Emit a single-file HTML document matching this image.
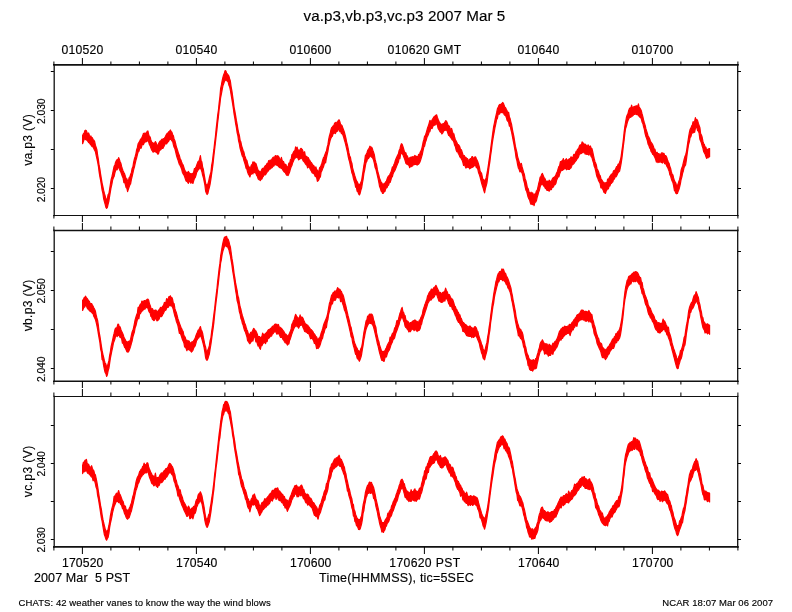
<!DOCTYPE html><html><head><meta charset="utf-8"><title>va.p3,vb.p3,vc.p3</title>
<style>html,body{margin:0;padding:0;background:#fff}svg{display:block}text{font-family:"Liberation Sans",sans-serif;fill:#000;stroke:#000;stroke-width:.15px}</style></head><body>
<svg width="792" height="612" viewBox="0 0 792 612">
<rect width="792" height="612" fill="#fff"/>
<path d="M82.6 135.4L83.4 133.7L84.1 133.2L84.9 130.6L85.6 130.2L86.4 130.8L87.1 132.9L87.9 134.0L88.6 133.0L89.4 135.2L90.1 137.0L90.9 136.0L91.6 138.0L92.4 137.7L93.1 139.6L93.9 140.3L94.6 141.4L95.4 145.2L96.1 147.3L96.9 149.7L97.6 154.8L98.4 159.6L99.1 165.2L99.9 169.1L100.6 174.0L101.4 178.9L102.1 183.1L102.9 186.7L103.6 190.2L104.4 193.5L105.1 195.6L105.9 199.0L106.6 199.8L107.4 198.4L108.1 194.7L108.9 193.5L109.6 189.3L110.4 184.2L111.1 179.7L111.9 176.7L112.6 173.6L113.4 169.6L114.1 166.3L114.9 165.0L115.6 162.2L116.4 160.6L117.1 159.6L117.9 159.7L118.6 157.6L119.4 159.4L120.1 161.7L120.9 163.3L121.6 166.4L122.4 169.0L123.1 170.9L123.9 172.6L124.6 173.8L125.4 176.5L126.1 178.6L126.9 178.9L127.6 181.2L128.4 181.3L129.1 177.6L129.9 176.8L130.6 174.5L131.4 172.4L132.1 168.6L132.9 166.8L133.6 162.4L134.4 159.0L135.1 156.7L135.9 153.8L136.6 149.9L137.4 147.4L138.1 143.8L138.9 142.5L139.6 141.4L140.4 139.5L141.1 138.6L141.9 137.5L142.6 136.1L143.4 133.4L144.1 133.5L144.9 133.0L145.6 133.5L146.4 133.1L147.1 131.4L147.9 131.0L148.6 134.1L149.4 136.7L150.1 136.9L150.9 139.9L151.6 142.0L152.4 142.6L153.1 143.7L153.9 143.1L154.6 143.5L155.4 141.6L156.1 142.7L156.9 145.2L157.6 146.0L158.4 144.1L159.1 142.5L159.9 141.2L160.6 141.1L161.4 139.9L162.1 139.0L162.9 140.2L163.6 138.5L164.4 138.3L165.1 137.0L165.9 135.4L166.6 134.2L167.4 133.2L168.1 133.3L168.9 131.6L169.6 131.2L170.4 130.0L171.1 131.5L171.9 132.2L172.6 134.5L173.4 135.9L174.1 139.0L174.9 140.7L175.6 143.4L176.4 147.1L177.1 148.8L177.9 151.5L178.6 153.8L179.4 155.6L180.1 158.4L180.9 160.0L181.6 162.0L182.4 164.0L183.1 164.9L183.9 167.4L184.6 169.8L185.4 171.1L186.1 172.0L186.9 173.2L187.6 172.4L188.4 171.5L189.1 172.6L189.9 173.5L190.6 173.7L191.4 174.1L192.1 173.5L192.9 173.3L193.6 172.4L194.4 168.7L195.1 168.6L195.9 167.4L196.6 165.5L197.4 163.2L198.1 161.6L198.9 161.1L199.6 159.2L200.4 155.6L201.1 160.4L201.9 162.1L202.6 166.8L203.4 169.5L204.1 174.0L204.9 178.7L205.6 183.0L206.4 185.7L207.1 184.7L207.9 183.9L208.6 181.5L209.4 177.6L210.1 174.9L210.9 172.3L211.6 165.7L212.4 161.3L213.1 155.2L213.9 149.2L214.6 142.8L215.4 136.5L216.1 129.2L216.9 122.4L217.6 115.7L218.4 110.3L219.1 103.3L219.9 96.8L220.6 88.7L221.4 84.9L222.1 80.9L222.9 77.5L223.6 74.9L224.4 73.0L225.1 70.6L225.9 71.0L226.6 73.1L227.4 74.0L228.1 74.9L228.9 76.1L229.6 78.7L230.4 81.3L231.1 86.6L231.9 90.8L232.6 95.8L233.4 101.6L234.1 107.3L234.9 111.4L235.6 115.4L236.4 120.4L237.1 124.2L237.9 129.1L238.6 132.6L239.4 135.6L240.1 140.2L240.9 142.1L241.6 145.6L242.4 148.1L243.1 150.5L243.9 152.0L244.6 155.4L245.4 157.4L246.1 159.6L246.9 160.5L247.6 163.3L248.4 166.5L249.1 166.8L249.9 168.8L250.6 167.5L251.4 164.9L252.1 165.1L252.9 161.8L253.6 162.5L254.4 162.1L255.1 163.3L255.9 163.3L256.6 165.6L257.4 168.2L258.1 170.3L258.9 170.9L259.6 171.7L260.4 171.9L261.1 171.3L261.9 169.1L262.6 168.4L263.4 168.3L264.1 167.6L264.9 166.2L265.6 165.5L266.4 164.9L267.1 163.3L267.9 163.9L268.6 160.7L269.4 161.9L270.1 160.0L270.9 160.5L271.6 159.5L272.4 158.2L273.1 157.4L273.9 157.2L274.6 157.2L275.4 155.6L276.1 155.8L276.9 156.0L277.6 155.7L278.4 156.3L279.1 157.4L279.9 159.5L280.6 160.2L281.4 157.3L282.1 160.3L282.9 161.4L283.6 161.6L284.4 164.3L285.1 164.4L285.9 164.4L286.6 166.6L287.4 167.0L288.1 166.6L288.9 163.0L289.6 163.8L290.4 159.6L291.1 159.7L291.9 154.5L292.6 154.3L293.4 152.1L294.1 151.2L294.9 150.5L295.6 146.9L296.4 149.5L297.1 147.1L297.9 149.8L298.6 150.0L299.4 151.2L300.1 149.4L300.9 148.3L301.6 148.8L302.4 149.6L303.1 151.7L303.9 153.8L304.6 151.7L305.4 156.4L306.1 156.4L306.9 156.4L307.6 158.4L308.4 157.6L309.1 159.7L309.9 160.5L310.6 161.9L311.4 162.6L312.1 163.8L312.9 165.5L313.6 165.4L314.4 166.8L315.1 167.8L315.9 167.0L316.6 169.6L317.4 170.2L318.1 171.5L318.9 171.1L319.6 167.7L320.4 166.9L321.1 165.3L321.9 163.2L322.6 160.5L323.4 157.9L324.1 156.8L324.9 154.6L325.6 152.6L326.4 151.1L327.1 147.5L327.9 144.7L328.6 139.9L329.4 135.9L330.1 133.8L330.9 129.9L331.6 127.7L332.4 127.1L333.1 125.9L333.9 125.4L334.6 123.3L335.4 122.4L336.1 123.8L336.9 122.3L337.6 121.7L338.4 120.2L339.1 119.8L339.9 121.8L340.6 124.4L341.4 124.9L342.1 125.8L342.9 128.1L343.6 130.0L344.4 132.2L345.1 135.0L345.9 138.2L346.6 141.8L347.4 144.9L348.1 148.2L348.9 152.7L349.6 155.7L350.4 157.2L351.1 161.1L351.9 163.1L352.6 167.9L353.4 170.8L354.1 173.1L354.9 176.0L355.6 178.2L356.4 180.6L357.1 181.6L357.9 183.2L358.6 184.3L359.4 184.7L360.1 184.0L360.9 182.2L361.6 180.6L362.4 175.4L363.1 170.9L363.9 165.3L364.6 161.6L365.4 155.3L366.1 154.6L366.9 153.0L367.6 150.6L368.4 149.2L369.1 148.4L369.9 146.2L370.6 147.2L371.4 147.1L372.1 147.9L372.9 150.4L373.6 152.3L374.4 155.0L375.1 159.4L375.9 162.4L376.6 164.8L377.4 169.7L378.1 172.8L378.9 175.4L379.6 178.6L380.4 180.3L381.1 182.1L381.9 183.0L382.6 184.6L383.4 184.5L384.1 183.4L384.9 183.4L385.6 181.9L386.4 181.1L387.1 179.0L387.9 177.0L388.6 175.8L389.4 175.9L390.1 173.7L390.9 172.4L391.6 170.1L392.4 166.9L393.1 167.4L393.9 164.6L394.6 163.2L395.4 160.2L396.1 158.5L396.9 156.8L397.6 155.3L398.4 153.8L399.1 150.5L399.9 149.0L400.6 146.0L401.4 143.7L402.1 144.2L402.9 146.4L403.6 148.6L404.4 151.6L405.1 152.6L405.9 152.8L406.6 156.0L407.4 155.8L408.1 158.3L408.9 158.4L409.6 157.8L410.4 157.8L411.1 156.9L411.9 157.5L412.6 156.7L413.4 157.3L414.1 156.3L414.9 155.5L415.6 156.1L416.4 156.3L417.1 156.7L417.9 156.9L418.6 154.3L419.4 155.3L420.1 152.3L420.9 151.1L421.6 149.3L422.4 146.0L423.1 142.2L423.9 139.4L424.6 136.2L425.4 135.5L426.1 133.1L426.9 130.3L427.6 127.7L428.4 125.8L429.1 123.3L429.9 120.4L430.6 121.2L431.4 121.3L432.1 119.9L432.9 118.7L433.6 117.4L434.4 116.3L435.1 115.9L435.9 115.2L436.6 114.8L437.4 117.4L438.1 119.3L438.9 121.2L439.6 122.4L440.4 123.7L441.1 124.1L441.9 124.9L442.6 123.9L443.4 123.6L444.1 123.3L444.9 122.1L445.6 120.7L446.4 121.0L447.1 122.5L447.9 124.7L448.6 125.9L449.4 126.1L450.1 128.7L450.9 129.4L451.6 128.4L452.4 131.4L453.1 133.6L453.9 133.9L454.6 137.3L455.4 139.8L456.1 140.9L456.9 142.5L457.6 144.5L458.4 144.5L459.1 145.6L459.9 147.1L460.6 150.0L461.4 149.7L462.1 151.9L462.9 154.5L463.6 155.5L464.4 155.7L465.1 157.5L465.9 157.4L466.6 158.4L467.4 158.6L468.1 159.9L468.9 160.7L469.6 159.5L470.4 158.6L471.1 158.9L471.9 156.7L472.6 156.7L473.4 159.0L474.1 157.9L474.9 156.9L475.6 156.9L476.4 158.8L477.1 160.2L477.9 162.1L478.6 164.3L479.4 167.2L480.1 171.0L480.9 172.5L481.6 173.3L482.4 177.3L483.1 180.0L483.9 179.7L484.6 181.1L485.4 179.8L486.1 177.9L486.9 173.9L487.6 170.2L488.4 164.8L489.1 159.8L489.9 154.6L490.6 149.3L491.4 143.1L492.1 137.9L492.9 131.8L493.6 126.9L494.4 123.1L495.1 119.5L495.9 115.9L496.6 112.9L497.4 108.9L498.1 107.6L498.9 105.4L499.6 104.5L500.4 105.2L501.1 104.0L501.9 103.5L502.6 102.5L503.4 103.2L504.1 105.1L504.9 107.5L505.6 107.7L506.4 109.4L507.1 110.8L507.9 113.6L508.6 112.2L509.4 117.1L510.1 118.6L510.9 122.1L511.6 124.5L512.4 129.3L513.1 132.9L513.9 136.7L514.6 141.2L515.4 146.2L516.1 149.2L516.9 152.4L517.6 156.8L518.4 159.3L519.1 161.6L519.9 163.8L520.6 164.2L521.4 163.5L522.1 166.9L522.9 169.7L523.6 172.2L524.4 174.5L525.1 178.7L525.9 180.7L526.6 183.6L527.4 187.8L528.1 188.4L528.9 191.5L529.6 192.5L530.4 194.1L531.1 192.1L531.9 194.5L532.6 192.8L533.4 194.6L534.1 195.6L534.9 193.8L535.6 193.9L536.4 190.9L537.1 190.7L537.9 187.3L538.6 184.0L539.4 180.9L540.1 177.3L540.9 176.6L541.6 174.4L542.4 173.5L543.1 175.2L543.9 177.3L544.6 178.1L545.4 179.6L546.1 181.4L546.9 181.4L547.6 181.2L548.4 182.7L549.1 180.2L549.9 180.8L550.6 182.1L551.4 181.0L552.1 179.4L552.9 178.0L553.6 177.4L554.4 176.9L555.1 176.6L555.9 174.8L556.6 173.0L557.4 171.5L558.1 169.0L558.9 166.5L559.6 165.8L560.4 161.5L561.1 162.2L561.9 160.7L562.6 160.4L563.4 158.6L564.1 161.2L564.9 160.7L565.6 159.6L566.4 158.7L567.1 161.2L567.9 159.9L568.6 159.7L569.4 158.7L570.1 159.9L570.9 156.8L571.6 157.3L572.4 158.1L573.1 156.4L573.9 154.3L574.6 154.6L575.4 153.8L576.1 151.3L576.9 151.0L577.6 149.1L578.4 149.5L579.1 147.0L579.9 145.0L580.6 144.8L581.4 145.1L582.1 141.8L582.9 143.0L583.6 143.1L584.4 145.1L585.1 144.1L585.9 144.9L586.6 145.7L587.4 146.5L588.1 144.8L588.9 146.6L589.6 146.6L590.4 146.0L591.1 148.1L591.9 148.5L592.6 151.2L593.4 155.0L594.1 158.2L594.9 161.5L595.6 163.0L596.4 165.3L597.1 169.1L597.9 170.2L598.6 171.9L599.4 174.9L600.1 175.5L600.9 178.5L601.6 179.7L602.4 180.8L603.1 182.5L603.9 182.3L604.6 183.8L605.4 183.0L606.1 182.5L606.9 183.0L607.6 179.1L608.4 179.6L609.1 178.1L609.9 176.3L610.6 175.5L611.4 174.1L612.1 174.7L612.9 172.8L613.6 170.7L614.4 170.4L615.1 170.2L615.9 168.2L616.6 166.5L617.4 166.5L618.1 164.2L618.9 164.4L619.6 162.3L620.4 160.0L621.1 156.5L621.9 150.5L622.6 145.9L623.4 139.0L624.1 132.3L624.9 126.0L625.6 122.0L626.4 117.5L627.1 115.2L627.9 113.8L628.6 110.8L629.4 108.7L630.1 107.8L630.9 107.9L631.6 105.2L632.4 107.8L633.1 107.8L633.9 106.5L634.6 106.6L635.4 106.1L636.1 106.1L636.9 105.7L637.6 107.3L638.4 103.9L639.1 107.0L639.9 108.1L640.6 109.2L641.4 111.1L642.1 114.0L642.9 116.8L643.6 120.1L644.4 122.9L645.1 125.1L645.9 128.7L646.6 130.9L647.4 133.5L648.1 136.2L648.9 137.2L649.6 138.7L650.4 141.0L651.1 142.4L651.9 143.4L652.6 144.6L653.4 146.4L654.1 149.0L654.9 149.1L655.6 151.8L656.4 153.1L657.1 152.3L657.9 154.5L658.6 153.6L659.4 154.0L660.1 154.9L660.9 153.9L661.6 152.9L662.4 152.9L663.1 153.5L663.9 153.3L664.6 155.2L665.4 155.6L666.1 156.1L666.9 157.8L667.6 160.3L668.4 162.4L669.1 163.3L669.9 166.8L670.6 168.3L671.4 171.9L672.1 174.1L672.9 175.0L673.6 178.0L674.4 180.6L675.1 181.9L675.9 183.1L676.6 186.1L677.4 185.5L678.1 184.1L678.9 181.2L679.6 179.4L680.4 175.4L681.1 170.3L681.9 167.7L682.6 165.9L683.4 162.4L684.1 159.4L684.9 156.6L685.6 155.0L686.4 152.0L687.1 147.1L687.9 141.6L688.6 137.2L689.4 132.4L690.1 129.4L690.9 128.2L691.6 126.1L692.4 124.7L693.1 121.6L693.9 123.4L694.6 121.4L695.4 117.6L696.1 120.2L696.9 119.5L697.6 120.6L698.4 123.5L699.1 125.4L699.9 127.6L700.6 133.5L701.4 135.0L702.1 137.0L702.9 141.2L703.6 143.5L704.4 144.6L705.1 147.3L705.9 147.2L706.6 150.2L707.4 149.3L708.1 149.6L708.9 148.7L709.6 148.5L709.6 156.8L708.9 155.9L708.1 157.9L707.4 157.3L706.6 158.3L705.9 156.5L705.1 154.1L704.4 152.9L703.6 151.4L702.9 148.1L702.1 145.7L701.4 143.0L700.6 140.9L699.9 139.3L699.1 133.1L698.4 131.3L697.6 130.6L696.9 127.7L696.1 127.2L695.4 128.3L694.6 132.3L693.9 132.0L693.1 133.0L692.4 132.7L691.6 133.8L690.9 136.7L690.1 137.4L689.4 141.6L688.6 144.5L687.9 149.0L687.1 154.4L686.4 159.8L685.6 165.0L684.9 166.0L684.1 167.4L683.4 170.7L682.6 173.2L681.9 176.8L681.1 179.5L680.4 183.6L679.6 187.2L678.9 189.6L678.1 191.4L677.4 193.5L676.6 193.8L675.9 193.2L675.1 191.2L674.4 190.5L673.6 185.7L672.9 182.6L672.1 181.0L671.4 179.1L670.6 176.0L669.9 175.0L669.1 171.0L668.4 169.4L667.6 167.4L666.9 166.4L666.1 164.2L665.4 163.8L664.6 163.6L663.9 162.0L663.1 161.6L662.4 163.1L661.6 162.3L660.9 162.1L660.1 161.8L659.4 162.2L658.6 161.9L657.9 162.6L657.1 160.4L656.4 162.1L655.6 159.3L654.9 157.5L654.1 155.9L653.4 154.4L652.6 154.3L651.9 152.4L651.1 151.5L650.4 148.9L649.6 147.9L648.9 145.5L648.1 144.1L647.4 140.8L646.6 138.4L645.9 136.5L645.1 133.6L644.4 129.7L643.6 126.8L642.9 123.7L642.1 122.2L641.4 119.2L640.6 117.5L639.9 117.4L639.1 115.4L638.4 115.9L637.6 113.7L636.9 114.6L636.1 114.3L635.4 113.6L634.6 114.5L633.9 114.4L633.1 115.4L632.4 116.1L631.6 115.9L630.9 117.1L630.1 117.3L629.4 117.7L628.6 119.1L627.9 120.9L627.1 123.4L626.4 126.4L625.6 128.5L624.9 133.3L624.1 140.4L623.4 145.6L622.6 152.6L621.9 158.5L621.1 163.6L620.4 167.4L619.6 171.1L618.9 171.8L618.1 172.6L617.4 174.3L616.6 175.9L615.9 177.0L615.1 176.6L614.4 179.1L613.6 178.9L612.9 181.7L612.1 182.4L611.4 183.4L610.6 183.8L609.9 186.0L609.1 186.2L608.4 188.9L607.6 188.5L606.9 190.0L606.1 191.3L605.4 193.5L604.6 192.7L603.9 192.3L603.1 189.9L602.4 188.4L601.6 188.0L600.9 188.0L600.1 183.5L599.4 182.1L598.6 180.8L597.9 178.5L597.1 177.0L596.4 174.5L595.6 170.5L594.9 167.7L594.1 165.9L593.4 162.5L592.6 160.2L591.9 157.4L591.1 156.5L590.4 153.9L589.6 153.4L588.9 155.2L588.1 153.1L587.4 154.4L586.6 154.3L585.9 153.8L585.1 154.1L584.4 152.0L583.6 151.9L582.9 152.8L582.1 152.5L581.4 153.4L580.6 153.8L579.9 153.1L579.1 155.1L578.4 157.2L577.6 158.4L576.9 159.1L576.1 160.6L575.4 161.3L574.6 162.5L573.9 163.6L573.1 164.3L572.4 164.3L571.6 166.4L570.9 168.0L570.1 168.4L569.4 169.4L568.6 169.3L567.9 169.5L567.1 168.0L566.4 169.8L565.6 168.0L564.9 168.6L564.1 169.1L563.4 169.4L562.6 170.3L561.9 169.7L561.1 170.8L560.4 172.0L559.6 174.1L558.9 176.9L558.1 176.5L557.4 178.6L556.6 180.3L555.9 183.4L555.1 184.6L554.4 184.6L553.6 186.4L552.9 187.4L552.1 187.1L551.4 189.6L550.6 189.4L549.9 189.8L549.1 191.3L548.4 189.9L547.6 190.4L546.9 190.3L546.1 188.7L545.4 188.4L544.6 186.7L543.9 186.2L543.1 185.1L542.4 183.6L541.6 184.7L540.9 184.8L540.1 187.1L539.4 190.2L538.6 192.2L537.9 195.1L537.1 197.6L536.4 200.8L535.6 202.2L534.9 202.1L534.1 205.7L533.4 203.5L532.6 204.6L531.9 202.8L531.1 204.5L530.4 203.1L529.6 199.9L528.9 198.9L528.1 197.1L527.4 194.4L526.6 191.2L525.9 190.1L525.1 186.6L524.4 182.7L523.6 180.1L522.9 176.0L522.1 173.2L521.4 172.0L520.6 171.2L519.9 171.8L519.1 169.3L518.4 168.2L517.6 164.6L516.9 160.6L516.1 157.8L515.4 152.6L514.6 148.2L513.9 144.2L513.1 140.1L512.4 136.4L511.6 132.1L510.9 129.5L510.1 125.5L509.4 126.1L508.6 122.1L507.9 121.3L507.1 120.4L506.4 117.7L505.6 115.5L504.9 115.3L504.1 114.6L503.4 112.2L502.6 112.8L501.9 112.2L501.1 112.6L500.4 112.2L499.6 114.1L498.9 113.8L498.1 114.7L497.4 118.5L496.6 119.7L495.9 123.3L495.1 127.0L494.4 130.9L493.6 135.3L492.9 139.3L492.1 144.6L491.4 150.4L490.6 155.7L489.9 161.7L489.1 166.6L488.4 172.0L487.6 177.8L486.9 183.1L486.1 186.2L485.4 188.6L484.6 192.8L483.9 190.8L483.1 187.9L482.4 185.9L481.6 183.0L480.9 180.3L480.1 177.1L479.4 174.9L478.6 172.8L477.9 169.6L477.1 167.4L476.4 167.8L475.6 165.6L474.9 164.4L474.1 166.1L473.4 166.5L472.6 167.3L471.9 166.8L471.1 167.9L470.4 168.2L469.6 168.8L468.9 167.2L468.1 167.3L467.4 167.2L466.6 167.2L465.9 168.1L465.1 166.2L464.4 163.5L463.6 165.5L462.9 162.6L462.1 160.1L461.4 158.9L460.6 157.5L459.9 157.1L459.1 154.8L458.4 153.7L457.6 151.4L456.9 151.8L456.1 149.9L455.4 146.6L454.6 145.2L453.9 142.3L453.1 140.5L452.4 140.1L451.6 139.0L450.9 137.7L450.1 136.8L449.4 135.6L448.6 135.4L447.9 133.3L447.1 130.9L446.4 130.0L445.6 130.1L444.9 130.5L444.1 130.4L443.4 131.7L442.6 133.1L441.9 134.0L441.1 132.3L440.4 132.2L439.6 131.0L438.9 129.6L438.1 128.4L437.4 125.2L436.6 124.0L435.9 123.5L435.1 125.1L434.4 125.2L433.6 125.3L432.9 126.3L432.1 128.6L431.4 128.0L430.6 128.7L429.9 131.6L429.1 132.0L428.4 134.5L427.6 136.2L426.9 137.5L426.1 140.5L425.4 142.3L424.6 146.1L423.9 146.9L423.1 150.4L422.4 154.0L421.6 156.8L420.9 159.2L420.1 161.6L419.4 162.9L418.6 164.2L417.9 164.4L417.1 165.2L416.4 164.3L415.6 164.3L414.9 164.5L414.1 164.7L413.4 164.5L412.6 165.9L411.9 166.1L411.1 166.7L410.4 166.6L409.6 167.5L408.9 165.2L408.1 164.9L407.4 164.2L406.6 164.1L405.9 163.4L405.1 160.5L404.4 158.4L403.6 156.6L402.9 154.6L402.1 153.9L401.4 152.6L400.6 154.1L399.9 158.7L399.1 158.5L398.4 162.1L397.6 163.8L396.9 165.4L396.1 167.6L395.4 169.4L394.6 170.9L393.9 172.0L393.1 173.7L392.4 176.7L391.6 177.3L390.9 180.0L390.1 182.5L389.4 182.4L388.6 185.1L387.9 185.4L387.1 187.6L386.4 187.7L385.6 189.1L384.9 191.7L384.1 191.4L383.4 193.2L382.6 193.5L381.9 191.7L381.1 191.1L380.4 188.4L379.6 186.6L378.9 182.7L378.1 178.7L377.4 175.6L376.6 172.2L375.9 169.2L375.1 167.5L374.4 163.7L373.6 160.3L372.9 158.5L372.1 157.1L371.4 157.1L370.6 155.7L369.9 156.2L369.1 157.4L368.4 158.7L367.6 158.4L366.9 161.1L366.1 162.4L365.4 165.6L364.6 170.3L363.9 173.3L363.1 179.5L362.4 183.2L361.6 188.1L360.9 190.0L360.1 193.4L359.4 195.0L358.6 193.8L357.9 191.8L357.1 191.2L356.4 187.5L355.6 187.2L354.9 183.2L354.1 180.7L353.4 178.4L352.6 174.4L351.9 173.0L351.1 169.0L350.4 165.8L349.6 161.9L348.9 159.5L348.1 156.0L347.4 152.0L346.6 148.7L345.9 145.6L345.1 142.4L344.4 140.0L343.6 137.0L342.9 135.0L342.1 133.4L341.4 133.6L340.6 130.9L339.9 131.7L339.1 129.1L338.4 129.0L337.6 131.2L336.9 131.1L336.1 132.0L335.4 133.6L334.6 133.0L333.9 133.1L333.1 133.9L332.4 136.2L331.6 136.9L330.9 138.3L330.1 140.5L329.4 143.5L328.6 146.9L327.9 151.3L327.1 154.8L326.4 158.0L325.6 162.8L324.9 161.6L324.1 164.6L323.4 167.0L322.6 168.7L321.9 170.7L321.1 172.1L320.4 176.9L319.6 177.5L318.9 179.6L318.1 180.8L317.4 181.3L316.6 177.4L315.9 176.8L315.1 176.3L314.4 174.2L313.6 173.5L312.9 173.2L312.1 172.7L311.4 171.2L310.6 170.0L309.9 168.4L309.1 166.7L308.4 167.1L307.6 167.9L306.9 165.3L306.1 164.7L305.4 163.9L304.6 162.3L303.9 161.5L303.1 160.8L302.4 158.7L301.6 157.4L300.9 158.8L300.1 157.8L299.4 159.2L298.6 159.9L297.9 158.1L297.1 157.6L296.4 156.5L295.6 158.0L294.9 158.2L294.1 159.3L293.4 161.3L292.6 162.9L291.9 165.5L291.1 167.0L290.4 169.1L289.6 172.1L288.9 173.7L288.1 175.6L287.4 174.9L286.6 175.2L285.9 173.9L285.1 172.3L284.4 172.2L283.6 171.3L282.9 170.1L282.1 168.6L281.4 168.4L280.6 167.8L279.9 167.7L279.1 167.0L278.4 166.5L277.6 165.5L276.9 164.9L276.1 165.1L275.4 164.2L274.6 164.6L273.9 166.1L273.1 166.0L272.4 167.3L271.6 168.0L270.9 168.2L270.1 169.2L269.4 168.9L268.6 170.5L267.9 171.3L267.1 172.1L266.4 173.3L265.6 174.6L264.9 174.9L264.1 174.4L263.4 176.4L262.6 177.2L261.9 179.1L261.1 179.1L260.4 180.6L259.6 179.8L258.9 179.6L258.1 178.8L257.4 176.4L256.6 175.4L255.9 173.4L255.1 172.5L254.4 172.6L253.6 171.3L252.9 174.0L252.1 172.3L251.4 174.2L250.6 174.5L249.9 177.0L249.1 175.2L248.4 174.4L247.6 172.1L246.9 169.2L246.1 168.4L245.4 165.4L244.6 162.6L243.9 160.5L243.1 157.2L242.4 156.3L241.6 153.7L240.9 151.2L240.1 148.4L239.4 144.2L238.6 140.8L237.9 135.8L237.1 132.5L236.4 127.7L235.6 123.5L234.9 118.7L234.1 114.1L233.4 108.9L232.6 103.7L231.9 99.3L231.1 94.7L230.4 90.3L229.6 86.7L228.9 85.2L228.1 81.8L227.4 81.3L226.6 80.1L225.9 80.2L225.1 80.3L224.4 81.6L223.6 84.1L222.9 85.8L222.1 90.1L221.4 93.8L220.6 97.8L219.9 104.1L219.1 109.9L218.4 117.0L217.6 123.2L216.9 130.1L216.1 136.7L215.4 143.0L214.6 149.8L213.9 155.7L213.1 163.1L212.4 168.7L211.6 174.2L210.9 179.1L210.1 184.2L209.4 187.3L208.6 190.1L207.9 193.3L207.1 194.5L206.4 193.2L205.6 191.0L204.9 185.1L204.1 181.1L203.4 177.7L202.6 175.1L201.9 171.7L201.1 169.4L200.4 168.2L199.6 168.0L198.9 169.3L198.1 169.9L197.4 171.3L196.6 172.5L195.9 175.6L195.1 177.7L194.4 178.5L193.6 181.1L192.9 183.5L192.1 182.3L191.4 182.7L190.6 183.1L189.9 181.5L189.1 180.7L188.4 183.3L187.6 182.1L186.9 181.4L186.1 181.0L185.4 179.0L184.6 176.5L183.9 174.9L183.1 173.8L182.4 172.4L181.6 168.9L180.9 167.2L180.1 165.5L179.4 164.5L178.6 162.0L177.9 159.7L177.1 157.6L176.4 155.1L175.6 151.6L174.9 148.8L174.1 147.3L173.4 144.9L172.6 141.2L171.9 141.0L171.1 139.5L170.4 139.5L169.6 139.1L168.9 140.9L168.1 141.9L167.4 142.5L166.6 143.9L165.9 143.2L165.1 144.1L164.4 145.6L163.6 146.9L162.9 148.4L162.1 148.1L161.4 148.8L160.6 150.0L159.9 149.5L159.1 151.5L158.4 154.0L157.6 154.1L156.9 152.4L156.1 152.4L155.4 151.1L154.6 151.6L153.9 151.7L153.1 152.1L152.4 151.0L151.6 149.8L150.9 148.0L150.1 145.6L149.4 144.7L148.6 141.8L147.9 140.1L147.1 141.1L146.4 141.7L145.6 141.7L144.9 142.2L144.1 143.1L143.4 144.7L142.6 143.2L141.9 145.6L141.1 148.2L140.4 147.7L139.6 148.9L138.9 151.3L138.1 152.1L137.4 154.5L136.6 158.0L135.9 160.3L135.1 163.8L134.4 167.1L133.6 169.8L132.9 173.2L132.1 176.6L131.4 179.4L130.6 183.9L129.9 184.7L129.1 187.1L128.4 189.0L127.6 191.7L126.9 188.3L126.1 187.5L125.4 184.8L124.6 181.9L123.9 182.6L123.1 178.1L122.4 176.6L121.6 174.4L120.9 172.3L120.1 170.8L119.4 169.2L118.6 166.3L117.9 167.9L117.1 169.9L116.4 168.9L115.6 170.6L114.9 172.8L114.1 176.5L113.4 177.7L112.6 180.1L111.9 184.1L111.1 187.5L110.4 191.6L109.6 196.3L108.9 201.0L108.1 204.2L107.4 207.4L106.6 208.3L105.9 207.4L105.1 204.1L104.4 201.6L103.6 198.5L102.9 193.4L102.1 190.2L101.4 185.5L100.6 180.3L99.9 176.9L99.1 171.9L98.4 166.3L97.6 161.9L96.9 158.7L96.1 155.1L95.4 151.6L94.6 150.2L93.9 148.7L93.1 147.1L92.4 146.7L91.6 146.0L90.9 144.9L90.1 144.0L89.4 143.0L88.6 142.5L87.9 141.5L87.1 139.9L86.4 140.1L85.6 139.5L84.9 138.5L84.1 139.6L83.4 141.6L82.6 143.7Z" fill="#f00" stroke="#f00" stroke-width="1.2" stroke-linejoin="round"/>
<path d="M82.6 300.1L83.4 299.7L84.1 297.8L84.9 297.2L85.6 296.2L86.4 297.8L87.1 298.4L87.9 299.6L88.6 300.7L89.4 301.5L90.1 303.5L90.9 303.5L91.6 303.6L92.4 305.1L93.1 306.2L93.9 308.1L94.6 309.1L95.4 311.2L96.1 314.8L96.9 318.0L97.6 320.4L98.4 325.7L99.1 331.8L99.9 336.1L100.6 340.7L101.4 346.1L102.1 350.4L102.9 354.3L103.6 357.1L104.4 360.7L105.1 363.0L105.9 364.2L106.6 367.9L107.4 366.1L108.1 363.6L108.9 360.7L109.6 355.6L110.4 351.6L111.1 346.7L111.9 343.2L112.6 340.1L113.4 336.2L114.1 333.4L114.9 329.8L115.6 328.1L116.4 328.2L117.1 327.1L117.9 324.2L118.6 324.4L119.4 327.3L120.1 326.9L120.9 329.5L121.6 331.4L122.4 332.7L123.1 334.4L123.9 336.9L124.6 338.7L125.4 339.9L126.1 342.0L126.9 341.5L127.6 343.9L128.4 341.4L129.1 341.3L129.9 340.9L130.6 339.2L131.4 335.1L132.1 332.1L132.9 330.3L133.6 327.6L134.4 323.6L135.1 319.9L135.9 317.3L136.6 315.0L137.4 312.9L138.1 307.3L138.9 307.8L139.6 305.8L140.4 304.1L141.1 304.4L141.9 301.0L142.6 301.8L143.4 301.9L144.1 300.5L144.9 300.7L145.6 300.8L146.4 300.0L147.1 299.4L147.9 299.1L148.6 300.0L149.4 303.6L150.1 305.3L150.9 307.7L151.6 309.4L152.4 308.6L153.1 310.1L153.9 311.8L154.6 310.3L155.4 310.1L156.1 310.2L156.9 312.0L157.6 311.2L158.4 310.7L159.1 309.6L159.9 308.6L160.6 307.3L161.4 308.2L162.1 307.2L162.9 306.1L163.6 305.1L164.4 302.4L165.1 302.9L165.9 302.4L166.6 298.6L167.4 299.5L168.1 299.1L168.9 296.6L169.6 296.7L170.4 295.8L171.1 297.4L171.9 297.6L172.6 299.3L173.4 303.6L174.1 303.7L174.9 308.7L175.6 310.7L176.4 312.8L177.1 315.5L177.9 318.7L178.6 320.6L179.4 323.1L180.1 324.9L180.9 327.2L181.6 328.5L182.4 330.5L183.1 331.4L183.9 335.5L184.6 336.3L185.4 337.8L186.1 340.7L186.9 340.2L187.6 341.2L188.4 340.8L189.1 341.0L189.9 342.8L190.6 343.4L191.4 342.4L192.1 341.7L192.9 342.3L193.6 340.7L194.4 339.6L195.1 338.4L195.9 335.7L196.6 334.1L197.4 332.1L198.1 330.3L198.9 329.6L199.6 328.2L200.4 326.5L201.1 329.4L201.9 331.0L202.6 333.1L203.4 337.5L204.1 340.8L204.9 345.0L205.6 346.9L206.4 351.7L207.1 352.1L207.9 349.7L208.6 348.3L209.4 345.4L210.1 340.6L210.9 337.8L211.6 331.7L212.4 326.7L213.1 320.6L213.9 314.0L214.6 308.9L215.4 301.3L216.1 295.3L216.9 289.2L217.6 281.9L218.4 275.1L219.1 268.9L219.9 263.4L220.6 256.2L221.4 251.4L222.1 247.2L222.9 242.9L223.6 240.0L224.4 237.5L225.1 236.8L225.9 236.8L226.6 236.3L227.4 239.1L228.1 239.2L228.9 241.4L229.6 244.4L230.4 247.1L231.1 252.2L231.9 258.2L232.6 262.1L233.4 267.7L234.1 273.5L234.9 278.2L235.6 282.9L236.4 287.1L237.1 290.3L237.9 296.0L238.6 297.8L239.4 302.8L240.1 306.8L240.9 309.3L241.6 312.6L242.4 315.7L243.1 317.8L243.9 320.5L244.6 322.9L245.4 324.7L246.1 327.2L246.9 329.8L247.6 331.1L248.4 334.2L249.1 334.2L249.9 335.1L250.6 332.3L251.4 332.2L252.1 332.0L252.9 330.0L253.6 328.4L254.4 328.9L255.1 330.6L255.9 330.9L256.6 332.4L257.4 334.5L258.1 337.3L258.9 336.5L259.6 336.5L260.4 338.9L261.1 337.3L261.9 336.5L262.6 333.1L263.4 334.5L264.1 334.4L264.9 334.0L265.6 333.6L266.4 332.6L267.1 332.1L267.9 330.5L268.6 329.7L269.4 329.9L270.1 328.8L270.9 328.2L271.6 327.7L272.4 326.2L273.1 326.5L273.9 325.5L274.6 324.6L275.4 324.0L276.1 324.6L276.9 324.2L277.6 325.8L278.4 324.5L279.1 327.0L279.9 327.2L280.6 327.9L281.4 328.3L282.1 329.2L282.9 330.3L283.6 331.0L284.4 332.5L285.1 333.9L285.9 334.0L286.6 335.0L287.4 336.9L288.1 335.4L288.9 334.7L289.6 333.1L290.4 331.3L291.1 328.9L291.9 324.2L292.6 323.4L293.4 320.8L294.1 320.0L294.9 316.7L295.6 314.3L296.4 316.0L297.1 316.8L297.9 319.1L298.6 317.9L299.4 317.8L300.1 314.9L300.9 317.8L301.6 317.0L302.4 317.4L303.1 318.5L303.9 320.9L304.6 322.1L305.4 324.3L306.1 324.1L306.9 324.9L307.6 325.0L308.4 326.3L309.1 327.2L309.9 328.3L310.6 329.2L311.4 329.8L312.1 330.6L312.9 331.6L313.6 333.3L314.4 333.9L315.1 335.0L315.9 336.7L316.6 336.9L317.4 339.3L318.1 340.3L318.9 338.2L319.6 338.0L320.4 336.1L321.1 333.1L321.9 331.0L322.6 329.0L323.4 325.7L324.1 323.4L324.9 321.6L325.6 319.9L326.4 318.1L327.1 316.0L327.9 312.2L328.6 308.2L329.4 303.5L330.1 301.4L330.9 298.1L331.6 295.1L332.4 294.4L333.1 292.7L333.9 292.5L334.6 291.0L335.4 291.2L336.1 291.2L336.9 289.5L337.6 287.6L338.4 288.8L339.1 289.2L339.9 289.3L340.6 291.0L341.4 291.4L342.1 293.6L342.9 294.6L343.6 296.7L344.4 300.2L345.1 303.2L345.9 306.1L346.6 309.3L347.4 312.9L348.1 316.0L348.9 319.0L349.6 321.8L350.4 326.0L351.1 327.3L351.9 331.6L352.6 334.2L353.4 337.4L354.1 340.9L354.9 343.8L355.6 345.1L356.4 347.5L357.1 348.2L357.9 350.4L358.6 350.7L359.4 351.4L360.1 351.5L360.9 348.4L361.6 347.3L362.4 343.1L363.1 338.0L363.9 332.4L364.6 328.9L365.4 324.5L366.1 320.9L366.9 319.8L367.6 316.1L368.4 316.7L369.1 314.6L369.9 314.1L370.6 314.3L371.4 314.0L372.1 314.4L372.9 316.4L373.6 320.0L374.4 322.0L375.1 325.5L375.9 327.3L376.6 332.9L377.4 336.3L378.1 339.4L378.9 341.7L379.6 345.3L380.4 347.5L381.1 349.6L381.9 352.7L382.6 351.4L383.4 352.2L384.1 351.0L384.9 351.3L385.6 349.0L386.4 347.8L387.1 345.7L387.9 344.0L388.6 342.8L389.4 341.5L390.1 337.1L390.9 338.7L391.6 335.7L392.4 333.5L393.1 333.1L393.9 331.2L394.6 328.1L395.4 327.1L396.1 324.4L396.9 320.6L397.6 321.2L398.4 319.4L399.1 316.6L399.9 313.5L400.6 311.7L401.4 308.9L402.1 307.4L402.9 311.7L403.6 312.4L404.4 315.2L405.1 315.5L405.9 319.9L406.6 320.5L407.4 321.1L408.1 321.6L408.9 323.4L409.6 323.4L410.4 322.5L411.1 322.5L411.9 322.0L412.6 321.3L413.4 320.6L414.1 321.4L414.9 319.9L415.6 320.8L416.4 321.0L417.1 321.5L417.9 322.1L418.6 322.5L419.4 320.0L420.1 320.0L420.9 317.4L421.6 316.2L422.4 313.9L423.1 309.9L423.9 307.8L424.6 305.3L425.4 303.2L426.1 301.2L426.9 299.2L427.6 296.0L428.4 294.5L429.1 292.8L429.9 291.6L430.6 291.0L431.4 289.0L432.1 289.3L432.9 289.7L433.6 288.0L434.4 287.2L435.1 286.7L435.9 285.3L436.6 286.6L437.4 288.6L438.1 289.9L438.9 291.6L439.6 292.9L440.4 292.4L441.1 293.3L441.9 294.1L442.6 292.4L443.4 293.0L444.1 291.6L444.9 291.0L445.6 288.2L446.4 290.5L447.1 291.5L447.9 293.8L448.6 294.6L449.4 294.7L450.1 296.3L450.9 297.8L451.6 299.0L452.4 299.1L453.1 300.8L453.9 303.2L454.6 305.8L455.4 306.7L456.1 309.0L456.9 309.7L457.6 311.7L458.4 312.5L459.1 314.5L459.9 314.9L460.6 317.5L461.4 318.6L462.1 320.7L462.9 322.5L463.6 322.6L464.4 323.8L465.1 324.4L465.9 324.6L466.6 326.3L467.4 326.0L468.1 327.8L468.9 326.5L469.6 326.1L470.4 326.1L471.1 328.0L471.9 327.5L472.6 328.5L473.4 328.8L474.1 327.5L474.9 326.6L475.6 327.1L476.4 328.1L477.1 330.5L477.9 331.7L478.6 334.9L479.4 337.4L480.1 339.5L480.9 341.7L481.6 344.3L482.4 346.0L483.1 349.0L483.9 350.6L484.6 351.1L485.4 348.3L486.1 345.3L486.9 342.7L487.6 337.3L488.4 333.0L489.1 327.3L489.9 322.7L490.6 316.0L491.4 310.4L492.1 304.7L492.9 300.1L493.6 294.9L494.4 290.0L495.1 286.3L495.9 281.6L496.6 279.4L497.4 276.0L498.1 273.9L498.9 272.8L499.6 271.6L500.4 271.5L501.1 271.2L501.9 268.9L502.6 270.1L503.4 269.1L504.1 271.3L504.9 273.0L505.6 273.5L506.4 276.0L507.1 277.0L507.9 278.7L508.6 280.7L509.4 283.2L510.1 285.4L510.9 287.9L511.6 292.1L512.4 295.7L513.1 300.0L513.9 303.9L514.6 307.5L515.4 311.5L516.1 316.8L516.9 320.2L517.6 323.1L518.4 325.5L519.1 328.1L519.9 329.6L520.6 329.2L521.4 331.1L522.1 332.0L522.9 334.6L523.6 339.0L524.4 341.7L525.1 345.4L525.9 347.8L526.6 351.6L527.4 354.3L528.1 355.3L528.9 358.3L529.6 359.5L530.4 359.8L531.1 361.2L531.9 360.1L532.6 360.5L533.4 359.6L534.1 360.9L534.9 360.6L535.6 358.6L536.4 358.3L537.1 355.5L537.9 352.9L538.6 350.0L539.4 347.6L540.1 343.9L540.9 341.9L541.6 341.4L542.4 339.8L543.1 341.3L543.9 342.7L544.6 344.3L545.4 343.7L546.1 344.2L546.9 343.8L547.6 345.3L548.4 346.2L549.1 344.2L549.9 345.0L550.6 345.8L551.4 346.3L552.1 345.3L552.9 343.2L553.6 343.6L554.4 342.6L555.1 341.3L555.9 341.1L556.6 339.5L557.4 338.1L558.1 335.8L558.9 333.1L559.6 331.0L560.4 330.6L561.1 328.8L561.9 328.8L562.6 327.3L563.4 328.5L564.1 326.7L564.9 326.1L565.6 326.7L566.4 326.5L567.1 326.5L567.9 326.0L568.6 326.2L569.4 324.3L570.1 324.7L570.9 324.5L571.6 323.2L572.4 322.1L573.1 321.4L573.9 319.8L574.6 319.3L575.4 317.9L576.1 317.1L576.9 315.2L577.6 314.6L578.4 314.8L579.1 313.6L579.9 312.9L580.6 311.5L581.4 310.1L582.1 310.5L582.9 310.0L583.6 310.9L584.4 312.3L585.1 311.4L585.9 311.3L586.6 311.5L587.4 312.0L588.1 311.9L588.9 310.5L589.6 312.5L590.4 313.1L591.1 314.4L591.9 314.6L592.6 318.9L593.4 321.4L594.1 324.4L594.9 326.7L595.6 329.5L596.4 333.3L597.1 335.1L597.9 337.6L598.6 338.4L599.4 341.8L600.1 342.8L600.9 343.2L601.6 344.0L602.4 347.5L603.1 347.7L603.9 349.0L604.6 349.2L605.4 351.3L606.1 349.1L606.9 349.2L607.6 347.3L608.4 346.6L609.1 345.9L609.9 344.1L610.6 343.3L611.4 341.9L612.1 340.1L612.9 338.8L613.6 339.2L614.4 336.6L615.1 336.7L615.9 333.6L616.6 334.3L617.4 332.4L618.1 331.4L618.9 330.7L619.6 328.9L620.4 326.2L621.1 322.6L621.9 318.1L622.6 312.0L623.4 306.4L624.1 298.7L624.9 292.2L625.6 287.5L626.4 283.9L627.1 280.5L627.9 279.6L628.6 276.7L629.4 276.1L630.1 275.9L630.9 275.2L631.6 274.3L632.4 273.4L633.1 273.3L633.9 272.1L634.6 272.5L635.4 271.7L636.1 271.8L636.9 272.1L637.6 272.7L638.4 274.3L639.1 276.2L639.9 277.1L640.6 277.7L641.4 282.2L642.1 282.3L642.9 287.7L643.6 289.4L644.4 292.7L645.1 295.3L645.9 296.9L646.6 299.0L647.4 300.9L648.1 304.4L648.9 306.4L649.6 307.7L650.4 308.1L651.1 310.8L651.9 312.6L652.6 313.8L653.4 315.0L654.1 316.4L654.9 319.3L655.6 320.7L656.4 320.6L657.1 322.4L657.9 323.7L658.6 322.6L659.4 323.0L660.1 323.6L660.9 323.4L661.6 324.2L662.4 321.9L663.1 319.0L663.9 321.6L664.6 321.0L665.4 322.7L666.1 324.7L666.9 326.1L667.6 328.1L668.4 327.2L669.1 331.9L669.9 334.1L670.6 336.4L671.4 339.6L672.1 343.5L672.9 346.0L673.6 348.5L674.4 350.5L675.1 353.1L675.9 354.9L676.6 357.7L677.4 359.4L678.1 359.3L678.9 356.2L679.6 355.3L680.4 350.8L681.1 350.3L681.9 348.1L682.6 345.6L683.4 341.8L684.1 337.6L684.9 336.0L685.6 330.9L686.4 325.7L687.1 322.5L687.9 317.1L688.6 311.3L689.4 307.8L690.1 305.8L690.9 303.7L691.6 302.4L692.4 301.6L693.1 298.7L693.9 296.1L694.6 294.9L695.4 294.4L696.1 291.6L696.9 293.7L697.6 295.8L698.4 297.6L699.1 301.9L699.9 304.7L700.6 308.8L701.4 311.9L702.1 316.7L702.9 317.7L703.6 321.7L704.4 322.0L705.1 323.7L705.9 324.1L706.6 324.4L707.4 323.8L708.1 324.3L708.9 325.1L709.6 325.2L709.6 334.3L708.9 332.9L708.1 333.0L707.4 333.8L706.6 332.4L705.9 332.0L705.1 333.0L704.4 330.3L703.6 328.9L702.9 327.4L702.1 323.8L701.4 320.1L700.6 316.4L699.9 311.7L699.1 309.3L698.4 305.2L697.6 303.6L696.9 301.1L696.1 301.3L695.4 302.9L694.6 303.8L693.9 306.0L693.1 307.7L692.4 308.9L691.6 309.1L690.9 312.2L690.1 312.7L689.4 317.6L688.6 319.3L687.9 323.9L687.1 329.3L686.4 333.6L685.6 340.6L684.9 345.2L684.1 346.5L683.4 349.9L682.6 351.9L681.9 356.0L681.1 358.8L680.4 359.7L679.6 362.9L678.9 364.9L678.1 368.5L677.4 368.6L676.6 367.1L675.9 364.6L675.1 361.7L674.4 358.5L673.6 355.9L672.9 352.9L672.1 350.1L671.4 346.9L670.6 344.9L669.9 341.4L669.1 339.2L668.4 337.5L667.6 334.9L666.9 334.9L666.1 331.5L665.4 331.7L664.6 329.4L663.9 329.0L663.1 329.7L662.4 330.5L661.6 331.4L660.9 331.7L660.1 333.0L659.4 333.0L658.6 332.5L657.9 332.3L657.1 330.4L656.4 330.1L655.6 329.1L654.9 327.2L654.1 324.6L653.4 322.6L652.6 321.7L651.9 319.7L651.1 318.3L650.4 317.7L649.6 315.5L648.9 314.7L648.1 312.3L647.4 309.1L646.6 306.1L645.9 305.0L645.1 302.7L644.4 299.2L643.6 296.9L642.9 294.3L642.1 293.6L641.4 290.0L640.6 287.5L639.9 284.0L639.1 284.1L638.4 282.8L637.6 281.8L636.9 281.0L636.1 280.7L635.4 281.7L634.6 279.9L633.9 281.9L633.1 280.8L632.4 281.0L631.6 281.8L630.9 284.0L630.1 283.9L629.4 285.1L628.6 285.6L627.9 287.1L627.1 289.1L626.4 291.6L625.6 296.3L624.9 299.6L624.1 305.6L623.4 313.2L622.6 320.1L621.9 325.2L621.1 330.9L620.4 335.2L619.6 338.2L618.9 339.1L618.1 340.6L617.4 340.2L616.6 342.5L615.9 343.0L615.1 343.1L614.4 346.0L613.6 348.4L612.9 348.4L612.1 348.4L611.4 349.7L610.6 350.7L609.9 351.5L609.1 354.0L608.4 354.3L607.6 356.0L606.9 357.5L606.1 358.7L605.4 359.5L604.6 357.8L603.9 357.9L603.1 356.7L602.4 357.5L601.6 355.0L600.9 352.1L600.1 350.0L599.4 348.7L598.6 346.8L597.9 345.2L597.1 343.4L596.4 339.9L595.6 337.2L594.9 335.4L594.1 333.5L593.4 329.0L592.6 326.9L591.9 322.9L591.1 322.5L590.4 321.3L589.6 320.0L588.9 322.0L588.1 320.1L587.4 320.6L586.6 321.2L585.9 321.2L585.1 321.0L584.4 319.1L583.6 320.0L582.9 318.2L582.1 319.8L581.4 319.2L580.6 320.0L579.9 319.4L579.1 321.0L578.4 321.5L577.6 322.9L576.9 326.3L576.1 325.5L575.4 325.2L574.6 327.3L573.9 327.8L573.1 330.0L572.4 329.2L571.6 331.4L570.9 332.3L570.1 335.7L569.4 333.4L568.6 332.9L567.9 333.6L567.1 333.1L566.4 334.3L565.6 334.3L564.9 335.1L564.1 336.0L563.4 336.4L562.6 338.4L561.9 337.1L561.1 340.2L560.4 339.2L559.6 340.5L558.9 341.6L558.1 344.1L557.4 346.0L556.6 347.7L555.9 348.2L555.1 349.9L554.4 350.9L553.6 351.1L552.9 354.4L552.1 353.0L551.4 353.1L550.6 355.4L549.9 355.5L549.1 354.7L548.4 356.2L547.6 354.2L546.9 353.9L546.1 353.8L545.4 352.1L544.6 354.2L543.9 350.7L543.1 350.1L542.4 347.9L541.6 349.2L540.9 350.9L540.1 351.9L539.4 354.3L538.6 357.1L537.9 360.9L537.1 364.2L536.4 368.2L535.6 368.5L534.9 369.0L534.1 368.5L533.4 369.8L532.6 371.1L531.9 369.8L531.1 370.4L530.4 370.1L529.6 369.3L528.9 366.1L528.1 365.5L527.4 360.7L526.6 358.6L525.9 355.8L525.1 352.8L524.4 348.5L523.6 346.8L522.9 343.2L522.1 340.1L521.4 338.9L520.6 338.4L519.9 337.1L519.1 335.3L518.4 335.8L517.6 331.0L516.9 328.1L516.1 324.1L515.4 320.6L514.6 315.7L513.9 311.1L513.1 306.8L512.4 302.9L511.6 299.5L510.9 295.2L510.1 292.0L509.4 290.5L508.6 288.4L507.9 287.9L507.1 284.9L506.4 284.7L505.6 282.8L504.9 281.4L504.1 280.9L503.4 278.6L502.6 280.7L501.9 279.5L501.1 279.3L500.4 279.1L499.6 279.9L498.9 281.9L498.1 282.1L497.4 284.8L496.6 287.6L495.9 290.6L495.1 293.9L494.4 297.3L493.6 303.3L492.9 306.6L492.1 312.5L491.4 318.0L490.6 322.9L489.9 330.2L489.1 334.8L488.4 340.9L487.6 345.9L486.9 350.9L486.1 353.9L485.4 356.4L484.6 359.8L483.9 359.0L483.1 358.1L482.4 354.8L481.6 353.1L480.9 350.0L480.1 347.5L479.4 343.8L478.6 341.6L477.9 340.0L477.1 338.0L476.4 336.5L475.6 335.6L474.9 336.0L474.1 336.9L473.4 337.4L472.6 335.1L471.9 337.7L471.1 336.2L470.4 336.3L469.6 336.4L468.9 334.8L468.1 336.5L467.4 334.8L466.6 335.5L465.9 334.2L465.1 332.4L464.4 332.1L463.6 331.3L462.9 331.5L462.1 327.7L461.4 326.1L460.6 325.1L459.9 323.8L459.1 322.1L458.4 322.3L457.6 320.6L456.9 319.3L456.1 316.5L455.4 315.6L454.6 313.2L453.9 311.6L453.1 309.8L452.4 309.2L451.6 306.6L450.9 306.0L450.1 306.5L449.4 304.4L448.6 303.7L447.9 300.9L447.1 299.3L446.4 298.4L445.6 297.7L444.9 301.2L444.1 299.7L443.4 301.2L442.6 302.1L441.9 302.2L441.1 302.5L440.4 301.4L439.6 301.2L438.9 301.1L438.1 298.6L437.4 296.7L436.6 293.9L435.9 294.7L435.1 294.3L434.4 296.7L433.6 297.3L432.9 298.1L432.1 298.1L431.4 299.9L430.6 300.1L429.9 298.8L429.1 301.3L428.4 302.3L427.6 304.1L426.9 306.5L426.1 309.2L425.4 311.1L424.6 313.9L423.9 315.8L423.1 318.2L422.4 320.1L421.6 324.2L420.9 325.3L420.1 328.8L419.4 330.0L418.6 330.7L417.9 329.9L417.1 331.5L416.4 330.4L415.6 329.8L414.9 329.1L414.1 330.7L413.4 329.0L412.6 329.0L411.9 329.7L411.1 330.1L410.4 331.7L409.6 330.4L408.9 331.9L408.1 330.0L407.4 329.4L406.6 328.0L405.9 327.6L405.1 326.3L404.4 322.6L403.6 320.9L402.9 318.5L402.1 316.8L401.4 317.5L400.6 319.5L399.9 320.9L399.1 324.4L398.4 326.1L397.6 328.6L396.9 330.6L396.1 332.4L395.4 334.5L394.6 337.9L393.9 339.0L393.1 339.4L392.4 341.9L391.6 343.4L390.9 345.1L390.1 347.8L389.4 349.8L388.6 351.0L387.9 352.1L387.1 354.4L386.4 357.0L385.6 356.3L384.9 358.1L384.1 361.3L383.4 361.1L382.6 360.4L381.9 360.5L381.1 358.3L380.4 355.5L379.6 352.9L378.9 349.9L378.1 346.1L377.4 343.8L376.6 340.0L375.9 336.9L375.1 333.4L374.4 330.3L373.6 327.3L372.9 325.4L372.1 323.8L371.4 323.8L370.6 323.1L369.9 323.3L369.1 322.6L368.4 323.9L367.6 325.4L366.9 327.0L366.1 329.2L365.4 332.0L364.6 336.5L363.9 339.6L363.1 345.3L362.4 349.2L361.6 354.5L360.9 357.4L360.1 359.6L359.4 361.3L358.6 359.8L357.9 359.1L357.1 358.2L356.4 354.6L355.6 354.4L354.9 351.5L354.1 347.8L353.4 345.7L352.6 342.3L351.9 337.8L351.1 336.7L350.4 332.6L349.6 329.4L348.9 326.0L348.1 322.8L347.4 319.9L346.6 316.8L345.9 313.6L345.1 311.2L344.4 309.9L343.6 306.4L342.9 304.4L342.1 301.8L341.4 300.6L340.6 301.7L339.9 297.9L339.1 297.4L338.4 298.0L337.6 297.3L336.9 297.4L336.1 298.1L335.4 300.2L334.6 300.1L333.9 300.6L333.1 300.9L332.4 304.0L331.6 303.3L330.9 306.1L330.1 309.4L329.4 311.4L328.6 314.5L327.9 319.6L327.1 322.4L326.4 327.6L325.6 327.8L324.9 329.4L324.1 332.7L323.4 333.9L322.6 338.1L321.9 339.2L321.1 341.3L320.4 344.0L319.6 346.3L318.9 347.3L318.1 348.5L317.4 347.8L316.6 348.6L315.9 345.1L315.1 342.6L314.4 343.5L313.6 340.9L312.9 339.4L312.1 338.5L311.4 338.3L310.6 338.8L309.9 336.6L309.1 334.3L308.4 333.4L307.6 333.4L306.9 332.4L306.1 331.9L305.4 331.8L304.6 331.4L303.9 329.3L303.1 327.7L302.4 325.6L301.6 324.3L300.9 325.5L300.1 325.2L299.4 326.6L298.6 328.2L297.9 326.4L297.1 326.8L296.4 324.8L295.6 326.0L294.9 326.8L294.1 328.1L293.4 329.7L292.6 331.9L291.9 333.7L291.1 336.4L290.4 338.7L289.6 340.5L288.9 343.9L288.1 344.1L287.4 345.1L286.6 343.4L285.9 342.8L285.1 342.8L284.4 341.5L283.6 339.9L282.9 339.4L282.1 337.2L281.4 337.4L280.6 337.5L279.9 336.0L279.1 334.2L278.4 333.4L277.6 333.8L276.9 334.2L276.1 332.4L275.4 331.5L274.6 331.9L273.9 332.2L273.1 333.6L272.4 333.7L271.6 336.1L270.9 336.0L270.1 336.4L269.4 337.8L268.6 338.3L267.9 338.4L267.1 341.7L266.4 340.3L265.6 343.6L264.9 342.6L264.1 342.3L263.4 343.1L262.6 344.0L261.9 345.7L261.1 345.6L260.4 349.3L259.6 348.0L258.9 345.5L258.1 346.1L257.4 344.0L256.6 340.5L255.9 342.0L255.1 337.8L254.4 336.1L253.6 337.6L252.9 341.1L252.1 340.4L251.4 341.5L250.6 342.7L249.9 343.8L249.1 342.8L248.4 341.6L247.6 340.6L246.9 336.7L246.1 334.3L245.4 332.0L244.6 330.6L243.9 328.3L243.1 325.0L242.4 323.6L241.6 319.9L240.9 318.4L240.1 314.0L239.4 311.8L238.6 306.8L237.9 303.2L237.1 300.6L236.4 294.9L235.6 290.4L234.9 285.1L234.1 279.7L233.4 275.2L232.6 270.4L231.9 265.0L231.1 260.5L230.4 255.9L229.6 252.8L228.9 249.7L228.1 247.9L227.4 246.3L226.6 246.6L225.9 245.5L225.1 246.1L224.4 246.6L223.6 249.1L222.9 251.0L222.1 254.7L221.4 259.5L220.6 263.2L219.9 269.8L219.1 276.1L218.4 282.9L217.6 289.2L216.9 295.6L216.1 301.9L215.4 308.0L214.6 315.3L213.9 322.3L213.1 328.6L212.4 333.5L211.6 339.5L210.9 344.5L210.1 349.1L209.4 353.7L208.6 356.2L207.9 358.8L207.1 360.3L206.4 359.9L205.6 357.7L204.9 352.3L204.1 347.7L203.4 344.7L202.6 341.5L201.9 339.1L201.1 336.9L200.4 335.9L199.6 335.8L198.9 337.7L198.1 338.3L197.4 339.4L196.6 340.7L195.9 343.3L195.1 346.0L194.4 346.7L193.6 348.3L192.9 350.3L192.1 351.4L191.4 352.0L190.6 350.9L189.9 350.5L189.1 349.4L188.4 349.6L187.6 348.5L186.9 350.7L186.1 348.4L185.4 347.5L184.6 346.8L183.9 342.9L183.1 341.0L182.4 339.6L181.6 336.9L180.9 334.7L180.1 332.3L179.4 333.4L178.6 329.1L177.9 325.6L177.1 323.4L176.4 321.5L175.6 318.0L174.9 316.2L174.1 313.2L173.4 309.8L172.6 307.4L171.9 306.2L171.1 305.8L170.4 305.7L169.6 305.6L168.9 305.7L168.1 307.5L167.4 307.3L166.6 308.2L165.9 310.1L165.1 310.3L164.4 311.0L163.6 313.1L162.9 314.1L162.1 315.9L161.4 316.7L160.6 316.1L159.9 316.7L159.1 319.1L158.4 319.9L157.6 320.7L156.9 320.8L156.1 318.3L155.4 318.3L154.6 320.0L153.9 320.7L153.1 319.9L152.4 319.3L151.6 316.8L150.9 316.4L150.1 312.9L149.4 312.3L148.6 310.7L147.9 307.9L147.1 308.0L146.4 307.1L145.6 307.8L144.9 309.2L144.1 308.7L143.4 309.5L142.6 310.9L141.9 310.4L141.1 312.3L140.4 313.6L139.6 313.8L138.9 318.6L138.1 318.2L137.4 319.7L136.6 322.8L135.9 325.9L135.1 327.9L134.4 332.0L133.6 334.5L132.9 336.9L132.1 341.1L131.4 343.4L130.6 346.4L129.9 348.5L129.1 350.4L128.4 352.0L127.6 352.1L126.9 351.7L126.1 349.8L125.4 348.2L124.6 347.4L123.9 345.2L123.1 343.1L122.4 343.2L121.6 338.6L120.9 337.6L120.1 337.5L119.4 335.7L118.6 335.2L117.9 335.7L117.1 336.6L116.4 335.3L115.6 335.8L114.9 339.1L114.1 341.3L113.4 343.1L112.6 347.7L111.9 350.6L111.1 354.7L110.4 358.2L109.6 363.6L108.9 368.4L108.1 370.9L107.4 374.7L106.6 376.4L105.9 373.7L105.1 372.4L104.4 369.5L103.6 365.4L102.9 360.4L102.1 359.6L101.4 352.2L100.6 349.0L99.9 342.7L99.1 338.1L98.4 334.1L97.6 329.1L96.9 325.6L96.1 322.2L95.4 319.4L94.6 317.7L93.9 316.5L93.1 313.9L92.4 313.3L91.6 312.2L90.9 311.7L90.1 311.5L89.4 310.0L88.6 310.0L87.9 309.0L87.1 307.9L86.4 305.5L85.6 304.5L84.9 306.9L84.1 307.2L83.4 308.6L82.6 310.4Z" fill="#f00" stroke="#f00" stroke-width="1.2" stroke-linejoin="round"/>
<path d="M82.6 465.7L83.4 462.1L84.1 463.5L84.9 460.3L85.6 460.1L86.4 459.3L87.1 462.9L87.9 464.9L88.6 464.2L89.4 466.4L90.1 467.3L90.9 467.0L91.6 465.7L92.4 468.5L93.1 469.9L93.9 470.9L94.6 473.8L95.4 474.9L96.1 478.1L96.9 482.2L97.6 486.0L98.4 491.3L99.1 496.1L99.9 501.0L100.6 505.7L101.4 509.4L102.1 514.5L102.9 519.2L103.6 522.5L104.4 525.7L105.1 528.4L105.9 530.7L106.6 531.4L107.4 530.8L108.1 529.2L108.9 525.5L109.6 521.5L110.4 515.6L111.1 512.0L111.9 508.4L112.6 505.9L113.4 502.0L114.1 496.4L114.9 495.9L115.6 494.7L116.4 493.2L117.1 493.5L117.9 493.0L118.6 490.5L119.4 493.5L120.1 494.5L120.9 496.5L121.6 498.4L122.4 500.7L123.1 501.4L123.9 504.7L124.6 506.0L125.4 506.2L126.1 509.6L126.9 510.0L127.6 510.1L128.4 510.6L129.1 508.6L129.9 507.0L130.6 505.0L131.4 502.9L132.1 499.7L132.9 496.1L133.6 494.1L134.4 489.7L135.1 487.1L135.9 482.5L136.6 479.7L137.4 477.2L138.1 476.1L138.9 474.2L139.6 471.6L140.4 470.5L141.1 469.3L141.9 468.8L142.6 466.5L143.4 465.9L144.1 463.2L144.9 464.9L145.6 464.8L146.4 464.3L147.1 462.7L147.9 463.3L148.6 466.7L149.4 469.0L150.1 470.6L150.9 472.6L151.6 473.7L152.4 475.7L153.1 475.6L153.9 477.6L154.6 476.8L155.4 473.2L156.1 477.3L156.9 478.3L157.6 477.5L158.4 477.3L159.1 477.4L159.9 475.0L160.6 474.2L161.4 472.9L162.1 473.3L162.9 472.6L163.6 471.5L164.4 470.4L165.1 469.9L165.9 468.5L166.6 468.7L167.4 467.9L168.1 466.5L168.9 464.5L169.6 463.4L170.4 463.7L171.1 464.8L171.9 466.1L172.6 467.1L173.4 469.5L174.1 472.5L174.9 474.7L175.6 479.0L176.4 480.8L177.1 484.2L177.9 485.6L178.6 487.8L179.4 491.1L180.1 489.7L180.9 493.4L181.6 495.6L182.4 497.5L183.1 500.6L183.9 502.1L184.6 503.2L185.4 504.8L186.1 506.2L186.9 508.7L187.6 508.2L188.4 506.1L189.1 507.1L189.9 509.7L190.6 510.1L191.4 508.6L192.1 507.9L192.9 507.9L193.6 506.3L194.4 506.7L195.1 505.0L195.9 501.2L196.6 499.6L197.4 498.8L198.1 495.1L198.9 493.8L199.6 493.3L200.4 491.8L201.1 493.4L201.9 495.6L202.6 499.3L203.4 503.3L204.1 507.0L204.9 512.7L205.6 517.0L206.4 519.2L207.1 520.0L207.9 517.4L208.6 514.9L209.4 513.5L210.1 508.2L210.9 504.0L211.6 498.9L212.4 494.2L213.1 488.4L213.9 482.0L214.6 474.5L215.4 468.5L216.1 461.6L216.9 454.2L217.6 448.0L218.4 440.8L219.1 434.3L219.9 428.6L220.6 422.2L221.4 416.9L222.1 411.4L222.9 408.8L223.6 404.7L224.4 403.8L225.1 401.8L225.9 401.3L226.6 401.5L227.4 402.2L228.1 404.0L228.9 406.3L229.6 409.5L230.4 412.1L231.1 417.4L231.9 422.9L232.6 427.6L233.4 433.5L234.1 437.7L234.9 442.6L235.6 448.3L236.4 452.4L237.1 456.3L237.9 461.3L238.6 464.5L239.4 468.7L240.1 471.9L240.9 475.3L241.6 478.7L242.4 480.3L243.1 482.5L243.9 486.4L244.6 488.7L245.4 490.0L246.1 492.2L246.9 495.3L247.6 498.4L248.4 499.0L249.1 501.3L249.9 502.8L250.6 501.3L251.4 498.8L252.1 498.1L252.9 495.2L253.6 495.4L254.4 494.0L255.1 496.2L255.9 498.4L256.6 500.3L257.4 500.0L258.1 500.9L258.9 503.6L259.6 506.2L260.4 506.2L261.1 504.9L261.9 502.6L262.6 502.6L263.4 501.5L264.1 500.5L264.9 498.6L265.6 499.7L266.4 499.0L267.1 497.6L267.9 496.6L268.6 496.0L269.4 494.4L270.1 493.8L270.9 493.3L271.6 491.9L272.4 490.3L273.1 490.6L273.9 490.2L274.6 489.1L275.4 488.4L276.1 488.3L276.9 488.8L277.6 487.8L278.4 489.8L279.1 491.3L279.9 491.1L280.6 492.9L281.4 493.1L282.1 494.3L282.9 494.7L283.6 497.0L284.4 496.5L285.1 499.7L285.9 499.2L286.6 500.5L287.4 500.2L288.1 502.0L288.9 500.4L289.6 498.6L290.4 496.5L291.1 495.0L291.9 492.7L292.6 490.8L293.4 488.7L294.1 487.6L294.9 485.7L295.6 485.9L296.4 485.1L297.1 486.3L297.9 487.3L298.6 487.1L299.4 487.3L300.1 486.7L300.9 485.5L301.6 485.1L302.4 486.9L303.1 489.2L303.9 489.6L304.6 492.5L305.4 493.6L306.1 494.3L306.9 494.3L307.6 494.2L308.4 494.9L309.1 496.8L309.9 498.0L310.6 498.1L311.4 499.1L312.1 501.1L312.9 502.6L313.6 502.6L314.4 503.9L315.1 505.1L315.9 506.4L316.6 506.9L317.4 509.2L318.1 509.8L318.9 508.6L319.6 505.6L320.4 504.1L321.1 502.7L321.9 499.6L322.6 497.3L323.4 495.2L324.1 492.1L324.9 490.6L325.6 488.7L326.4 483.9L327.1 482.7L327.9 480.5L328.6 476.9L329.4 473.0L330.1 468.1L330.9 466.9L331.6 464.0L332.4 463.5L333.1 462.3L333.9 460.4L334.6 458.9L335.4 459.4L336.1 457.9L336.9 457.8L337.6 457.0L338.4 456.8L339.1 455.2L339.9 457.9L340.6 459.3L341.4 459.3L342.1 461.6L342.9 463.2L343.6 465.5L344.4 467.2L345.1 471.5L345.9 473.6L346.6 478.1L347.4 481.1L348.1 484.6L348.9 488.3L349.6 490.0L350.4 493.9L351.1 496.6L351.9 499.0L352.6 503.5L353.4 504.6L354.1 509.5L354.9 511.2L355.6 514.4L356.4 516.5L357.1 518.3L357.9 519.0L358.6 520.3L359.4 519.4L360.1 520.7L360.9 517.2L361.6 515.9L362.4 509.9L363.1 505.0L363.9 501.4L364.6 498.0L365.4 492.5L366.1 490.0L366.9 487.1L367.6 485.1L368.4 485.1L369.1 482.6L369.9 482.0L370.6 483.1L371.4 482.3L372.1 484.4L372.9 485.9L373.6 487.5L374.4 490.8L375.1 494.1L375.9 498.4L376.6 501.4L377.4 505.0L378.1 507.9L378.9 511.9L379.6 515.7L380.4 518.1L381.1 520.3L381.9 522.8L382.6 522.6L383.4 522.7L384.1 523.0L384.9 520.7L385.6 519.2L386.4 518.6L387.1 516.9L387.9 513.1L388.6 513.9L389.4 511.2L390.1 510.4L390.9 509.0L391.6 505.9L392.4 504.7L393.1 502.1L393.9 500.6L394.6 498.9L395.4 497.6L396.1 494.7L396.9 492.7L397.6 490.4L398.4 488.9L399.1 485.8L399.9 483.9L400.6 481.2L401.4 479.5L402.1 479.2L402.9 480.7L403.6 483.4L404.4 483.8L405.1 487.3L405.9 489.1L406.6 491.2L407.4 491.1L408.1 492.2L408.9 492.1L409.6 493.0L410.4 492.8L411.1 489.7L411.9 491.8L412.6 491.7L413.4 491.4L414.1 489.9L414.9 488.8L415.6 491.4L416.4 490.9L417.1 491.5L417.9 491.6L418.6 490.7L419.4 488.5L420.1 487.9L420.9 487.5L421.6 483.7L422.4 481.3L423.1 477.1L423.9 475.5L424.6 470.9L425.4 470.6L426.1 466.8L426.9 466.8L427.6 463.9L428.4 462.5L429.1 460.1L429.9 457.6L430.6 456.6L431.4 457.2L432.1 456.2L432.9 455.8L433.6 453.9L434.4 453.1L435.1 451.8L435.9 451.0L436.6 451.2L437.4 452.7L438.1 455.4L438.9 456.4L439.6 456.8L440.4 455.5L441.1 458.5L441.9 458.1L442.6 458.2L443.4 457.7L444.1 458.3L444.9 456.8L445.6 457.3L446.4 458.3L447.1 459.7L447.9 460.5L448.6 463.2L449.4 464.4L450.1 464.4L450.9 466.8L451.6 467.5L452.4 467.2L453.1 468.2L453.9 471.4L454.6 472.5L455.4 475.9L456.1 476.5L456.9 479.7L457.6 481.1L458.4 481.4L459.1 483.4L459.9 484.5L460.6 485.4L461.4 487.8L462.1 488.3L462.9 491.3L463.6 491.0L464.4 492.9L465.1 493.3L465.9 494.7L466.6 492.2L467.4 494.7L468.1 496.7L468.9 496.7L469.6 496.5L470.4 495.6L471.1 495.9L471.9 497.3L472.6 496.8L473.4 495.9L474.1 496.1L474.9 496.5L475.6 496.8L476.4 497.4L477.1 497.8L477.9 500.0L478.6 503.0L479.4 505.9L480.1 508.3L480.9 510.9L481.6 513.4L482.4 515.5L483.1 516.8L483.9 518.3L484.6 518.1L485.4 517.2L486.1 514.5L486.9 510.7L487.6 506.8L488.4 501.7L489.1 496.1L489.9 490.3L490.6 484.8L491.4 477.8L492.1 473.1L492.9 467.2L493.6 462.3L494.4 458.1L495.1 453.2L495.9 449.5L496.6 446.2L497.4 442.1L498.1 441.5L498.9 439.9L499.6 439.8L500.4 437.8L501.1 436.5L501.9 436.3L502.6 435.8L503.4 436.9L504.1 438.8L504.9 439.1L505.6 441.0L506.4 442.5L507.1 443.6L507.9 446.8L508.6 447.1L509.4 448.3L510.1 451.7L510.9 455.2L511.6 459.3L512.4 462.0L513.1 466.7L513.9 471.5L514.6 476.0L515.4 479.5L516.1 484.0L516.9 488.2L517.6 490.8L518.4 492.6L519.1 495.0L519.9 496.2L520.6 497.2L521.4 499.2L522.1 501.2L522.9 503.0L523.6 506.6L524.4 509.4L525.1 512.7L525.9 516.6L526.6 519.7L527.4 521.3L528.1 523.1L528.9 525.3L529.6 527.0L530.4 528.6L531.1 529.0L531.9 529.0L532.6 528.8L533.4 530.2L534.1 530.4L534.9 528.4L535.6 527.7L536.4 526.4L537.1 523.7L537.9 521.7L538.6 517.5L539.4 514.2L540.1 512.4L540.9 509.1L541.6 507.5L542.4 507.1L543.1 509.2L543.9 510.5L544.6 510.6L545.4 511.8L546.1 512.4L546.9 512.7L547.6 511.8L548.4 512.1L549.1 513.6L549.9 512.7L550.6 512.6L551.4 511.5L552.1 511.9L552.9 511.3L553.6 511.8L554.4 509.7L555.1 509.8L555.9 507.6L556.6 506.3L557.4 504.7L558.1 503.1L558.9 501.6L559.6 499.6L560.4 498.2L561.1 497.0L561.9 497.7L562.6 497.2L563.4 495.8L564.1 495.5L564.9 496.2L565.6 494.7L566.4 493.7L567.1 495.0L567.9 494.8L568.6 491.0L569.4 492.9L570.1 493.3L570.9 492.6L571.6 490.8L572.4 490.2L573.1 489.6L573.9 486.9L574.6 484.1L575.4 484.7L576.1 485.5L576.9 483.3L577.6 483.4L578.4 481.8L579.1 480.9L579.9 479.4L580.6 478.5L581.4 478.4L582.1 477.0L582.9 477.8L583.6 477.1L584.4 476.6L585.1 480.0L585.9 478.5L586.6 479.4L587.4 479.9L588.1 480.7L588.9 479.3L589.6 478.8L590.4 481.6L591.1 481.9L591.9 483.5L592.6 485.3L593.4 488.3L594.1 492.7L594.9 493.4L595.6 498.1L596.4 499.4L597.1 502.5L597.9 505.1L598.6 506.0L599.4 509.2L600.1 510.7L600.9 511.5L601.6 514.1L602.4 513.0L603.1 516.4L603.9 517.5L604.6 518.6L605.4 518.2L606.1 516.9L606.9 517.1L607.6 515.0L608.4 514.6L609.1 512.4L609.9 511.0L610.6 509.8L611.4 508.7L612.1 507.8L612.9 505.7L613.6 505.8L614.4 504.2L615.1 502.8L615.9 501.7L616.6 500.6L617.4 500.9L618.1 499.8L618.9 496.3L619.6 497.0L620.4 493.6L621.1 490.6L621.9 485.5L622.6 480.1L623.4 472.5L624.1 466.1L624.9 459.1L625.6 454.6L626.4 452.0L627.1 448.7L627.9 445.8L628.6 443.8L629.4 444.0L630.1 442.2L630.9 442.7L631.6 441.6L632.4 441.5L633.1 440.4L633.9 437.5L634.6 440.0L635.4 438.1L636.1 439.2L636.9 440.7L637.6 439.5L638.4 441.4L639.1 440.9L639.9 443.5L640.6 446.0L641.4 448.9L642.1 450.8L642.9 455.2L643.6 457.4L644.4 460.5L645.1 461.9L645.9 464.9L646.6 466.2L647.4 467.6L648.1 471.3L648.9 473.8L649.6 472.7L650.4 477.0L651.1 477.9L651.9 478.9L652.6 480.7L653.4 482.7L654.1 484.5L654.9 486.3L655.6 487.9L656.4 488.9L657.1 490.6L657.9 489.9L658.6 490.4L659.4 491.3L660.1 492.1L660.9 492.2L661.6 491.1L662.4 491.6L663.1 491.5L663.9 491.7L664.6 490.8L665.4 492.2L666.1 493.2L666.9 494.0L667.6 494.4L668.4 497.8L669.1 500.0L669.9 501.4L670.6 504.2L671.4 506.1L672.1 510.0L672.9 512.2L673.6 515.9L674.4 518.6L675.1 520.1L675.9 522.8L676.6 525.4L677.4 525.5L678.1 526.4L678.9 524.8L679.6 520.9L680.4 520.2L681.1 518.0L681.9 515.9L682.6 512.2L683.4 508.6L684.1 507.3L684.9 503.3L685.6 498.0L686.4 494.2L687.1 489.1L687.9 485.3L688.6 480.0L689.4 475.0L690.1 472.9L690.9 470.5L691.6 469.9L692.4 468.8L693.1 465.7L693.9 463.6L694.6 461.6L695.4 460.9L696.1 458.6L696.9 460.7L697.6 461.0L698.4 465.4L699.1 468.2L699.9 472.4L700.6 474.8L701.4 479.9L702.1 484.1L702.9 485.3L703.6 489.1L704.4 491.1L705.1 491.4L705.9 491.1L706.6 492.4L707.4 492.4L708.1 493.1L708.9 492.7L709.6 493.5L709.6 502.0L708.9 500.2L708.1 501.2L707.4 501.6L706.6 499.8L705.9 499.2L705.1 499.9L704.4 499.9L703.6 495.6L702.9 494.7L702.1 491.2L701.4 486.8L700.6 482.9L699.9 480.1L699.1 476.7L698.4 473.1L697.6 471.2L696.9 468.9L696.1 469.6L695.4 470.4L694.6 469.9L693.9 471.7L693.1 473.9L692.4 477.0L691.6 478.3L690.9 480.2L690.1 481.4L689.4 482.7L688.6 487.2L687.9 492.4L687.1 496.7L686.4 502.0L685.6 506.1L684.9 510.8L684.1 513.7L683.4 516.9L682.6 522.4L681.9 523.4L681.1 525.7L680.4 527.7L679.6 529.7L678.9 532.1L678.1 534.8L677.4 535.6L676.6 534.0L675.9 531.1L675.1 529.3L674.4 527.1L673.6 523.9L672.9 520.6L672.1 517.2L671.4 514.9L670.6 511.5L669.9 510.3L669.1 507.9L668.4 504.6L667.6 504.1L666.9 503.2L666.1 501.7L665.4 500.3L664.6 499.8L663.9 500.7L663.1 500.7L662.4 501.8L661.6 500.1L660.9 499.6L660.1 501.5L659.4 499.0L658.6 499.4L657.9 499.6L657.1 498.4L656.4 495.8L655.6 494.8L654.9 493.8L654.1 492.4L653.4 490.5L652.6 491.5L651.9 487.5L651.1 486.8L650.4 484.2L649.6 483.2L648.9 481.4L648.1 479.3L647.4 477.9L646.6 473.6L645.9 472.0L645.1 469.9L644.4 466.7L643.6 464.7L642.9 462.5L642.1 459.6L641.4 456.4L640.6 455.1L639.9 452.1L639.1 450.7L638.4 450.8L637.6 448.9L636.9 449.6L636.1 447.8L635.4 447.8L634.6 449.4L633.9 449.2L633.1 448.0L632.4 450.3L631.6 449.4L630.9 450.8L630.1 450.5L629.4 451.6L628.6 452.7L627.9 455.0L627.1 456.9L626.4 459.5L625.6 462.7L624.9 466.7L624.1 475.1L623.4 479.5L622.6 488.6L621.9 493.2L621.1 497.2L620.4 501.6L619.6 505.1L618.9 506.9L618.1 507.0L617.4 507.3L616.6 508.9L615.9 510.1L615.1 512.0L614.4 512.5L613.6 513.5L612.9 514.3L612.1 517.0L611.4 516.8L610.6 517.6L609.9 518.6L609.1 521.6L608.4 521.6L607.6 526.0L606.9 523.8L606.1 525.3L605.4 525.7L604.6 525.2L603.9 525.0L603.1 523.8L602.4 523.2L601.6 521.9L600.9 520.5L600.1 518.1L599.4 516.1L598.6 514.6L597.9 511.9L597.1 509.7L596.4 508.6L595.6 507.4L594.9 501.7L594.1 498.9L593.4 496.7L592.6 493.1L591.9 491.2L591.1 489.3L590.4 488.9L589.6 489.6L588.9 488.3L588.1 489.5L587.4 487.4L586.6 488.4L585.9 488.3L585.1 488.4L584.4 486.4L583.6 486.5L582.9 485.0L582.1 484.9L581.4 485.8L580.6 487.3L579.9 487.1L579.1 488.9L578.4 490.1L577.6 490.9L576.9 491.7L576.1 493.7L575.4 494.7L574.6 495.5L573.9 495.9L573.1 496.7L572.4 498.6L571.6 499.5L570.9 499.7L570.1 500.8L569.4 501.3L568.6 502.9L567.9 501.6L567.1 502.7L566.4 502.1L565.6 502.4L564.9 504.3L564.1 504.7L563.4 505.5L562.6 504.6L561.9 505.0L561.1 508.0L560.4 507.6L559.6 507.3L558.9 509.7L558.1 511.2L557.4 513.4L556.6 514.9L555.9 517.0L555.1 517.1L554.4 517.4L553.6 518.8L552.9 519.7L552.1 520.2L551.4 521.4L550.6 520.8L549.9 522.4L549.1 521.1L548.4 520.8L547.6 520.6L546.9 520.8L546.1 520.7L545.4 520.3L544.6 519.3L543.9 518.4L543.1 518.2L542.4 515.8L541.6 518.5L540.9 519.8L540.1 520.8L539.4 522.4L538.6 525.2L537.9 530.1L537.1 532.5L536.4 534.2L535.6 535.3L534.9 538.3L534.1 538.4L533.4 538.8L532.6 538.1L531.9 539.3L531.1 537.2L530.4 537.2L529.6 537.0L528.9 534.4L528.1 532.5L527.4 529.2L526.6 527.5L525.9 523.0L525.1 520.5L524.4 516.9L523.6 514.5L522.9 510.6L522.1 507.6L521.4 505.8L520.6 505.7L519.9 505.8L519.1 503.1L518.4 501.1L517.6 500.3L516.9 494.3L516.1 491.7L515.4 487.4L514.6 482.3L513.9 477.9L513.1 473.9L512.4 469.1L511.6 466.9L510.9 463.6L510.1 460.1L509.4 458.3L508.6 456.5L507.9 453.9L507.1 452.9L506.4 450.6L505.6 450.9L504.9 447.5L504.1 448.8L503.4 445.4L502.6 444.5L501.9 444.8L501.1 444.5L500.4 446.4L499.6 446.5L498.9 448.3L498.1 450.0L497.4 452.3L496.6 453.9L495.9 459.0L495.1 461.8L494.4 465.1L493.6 470.3L492.9 475.3L492.1 480.2L491.4 484.9L490.6 491.2L489.9 496.5L489.1 502.9L488.4 509.1L487.6 513.6L486.9 518.3L486.1 522.8L485.4 525.9L484.6 529.2L483.9 527.2L483.1 525.9L482.4 522.7L481.6 520.1L480.9 518.3L480.1 517.8L479.4 513.6L478.6 510.4L477.9 509.2L477.1 506.6L476.4 505.2L475.6 505.1L474.9 503.6L474.1 504.0L473.4 504.8L472.6 505.4L471.9 504.5L471.1 504.2L470.4 505.4L469.6 504.7L468.9 504.7L468.1 505.6L467.4 503.8L466.6 503.3L465.9 503.1L465.1 501.3L464.4 501.9L463.6 499.6L462.9 499.9L462.1 495.9L461.4 494.7L460.6 496.3L459.9 492.8L459.1 491.3L458.4 489.7L457.6 489.2L456.9 487.5L456.1 485.7L455.4 482.6L454.6 480.7L453.9 478.9L453.1 476.6L452.4 477.0L451.6 475.4L450.9 476.2L450.1 472.6L449.4 472.9L448.6 471.1L447.9 469.7L447.1 467.8L446.4 465.2L445.6 464.2L444.9 465.3L444.1 465.1L443.4 467.1L442.6 467.0L441.9 468.2L441.1 466.9L440.4 467.4L439.6 465.3L438.9 464.5L438.1 463.5L437.4 460.7L436.6 459.6L435.9 460.1L435.1 460.0L434.4 462.5L433.6 463.4L432.9 462.7L432.1 464.1L431.4 464.9L430.6 466.0L429.9 467.2L429.1 467.6L428.4 472.5L427.6 472.0L426.9 474.6L426.1 478.9L425.4 479.1L424.6 480.7L423.9 484.1L423.1 486.2L422.4 489.5L421.6 492.6L420.9 493.9L420.1 496.8L419.4 499.2L418.6 498.5L417.9 499.1L417.1 499.8L416.4 501.3L415.6 500.5L414.9 501.0L414.1 500.8L413.4 500.3L412.6 499.9L411.9 499.8L411.1 501.4L410.4 501.2L409.6 500.5L408.9 501.5L408.1 500.1L407.4 499.9L406.6 498.8L405.9 497.6L405.1 497.3L404.4 494.1L403.6 491.4L402.9 488.8L402.1 487.1L401.4 488.8L400.6 489.6L399.9 492.3L399.1 494.0L398.4 495.8L397.6 499.3L396.9 501.3L396.1 502.5L395.4 504.7L394.6 506.6L393.9 508.7L393.1 511.0L392.4 512.1L391.6 515.1L390.9 516.6L390.1 517.2L389.4 519.6L388.6 521.7L387.9 522.6L387.1 523.6L386.4 526.1L385.6 526.8L384.9 529.9L384.1 530.8L383.4 532.5L382.6 530.6L381.9 532.0L381.1 528.4L380.4 526.3L379.6 523.3L378.9 519.6L378.1 516.5L377.4 512.3L376.6 509.1L375.9 506.3L375.1 501.7L374.4 499.0L373.6 498.5L372.9 494.5L372.1 493.0L371.4 492.5L370.6 493.4L369.9 493.0L369.1 492.5L368.4 493.4L367.6 493.0L366.9 495.9L366.1 497.6L365.4 501.5L364.6 505.2L363.9 510.5L363.1 513.3L362.4 519.4L361.6 523.8L360.9 526.3L360.1 529.1L359.4 529.6L358.6 529.5L357.9 527.4L357.1 526.2L356.4 525.3L355.6 521.9L354.9 521.4L354.1 516.4L353.4 515.9L352.6 509.8L351.9 508.0L351.1 503.8L350.4 500.5L349.6 497.7L348.9 495.6L348.1 491.5L347.4 491.0L346.6 485.5L345.9 482.3L345.1 478.7L344.4 475.1L343.6 473.6L342.9 471.3L342.1 469.5L341.4 467.2L340.6 466.4L339.9 466.4L339.1 464.9L338.4 464.8L337.6 465.6L336.9 465.8L336.1 467.0L335.4 467.1L334.6 468.0L333.9 468.9L333.1 468.7L332.4 471.2L331.6 472.7L330.9 476.6L330.1 478.7L329.4 480.1L328.6 483.7L327.9 489.1L327.1 492.0L326.4 494.0L325.6 495.8L324.9 500.0L324.1 500.4L323.4 502.0L322.6 505.1L321.9 507.3L321.1 509.8L320.4 512.5L319.6 514.0L318.9 515.4L318.1 519.2L317.4 517.5L316.6 515.5L315.9 516.5L315.1 514.7L314.4 515.3L313.6 512.9L312.9 510.5L312.1 508.0L311.4 507.3L310.6 506.6L309.9 505.6L309.1 505.1L308.4 503.1L307.6 505.1L306.9 501.9L306.1 503.0L305.4 501.9L304.6 499.3L303.9 499.0L303.1 497.8L302.4 495.2L301.6 494.8L300.9 495.9L300.1 494.8L299.4 494.1L298.6 496.7L297.9 495.3L297.1 496.9L296.4 494.4L295.6 493.7L294.9 494.3L294.1 496.5L293.4 496.5L292.6 498.9L291.9 499.6L291.1 502.5L290.4 504.8L289.6 506.4L288.9 507.7L288.1 509.5L287.4 511.4L286.6 508.8L285.9 507.6L285.1 508.0L284.4 505.3L283.6 505.3L282.9 502.9L282.1 502.8L281.4 502.1L280.6 500.4L279.9 500.7L279.1 500.4L278.4 499.5L277.6 497.2L276.9 496.7L276.1 499.5L275.4 496.3L274.6 496.1L273.9 498.6L273.1 498.5L272.4 501.1L271.6 500.6L270.9 500.0L270.1 502.0L269.4 503.9L268.6 503.7L267.9 505.3L267.1 504.9L266.4 506.9L265.6 506.8L264.9 507.8L264.1 508.5L263.4 509.7L262.6 509.4L261.9 512.0L261.1 513.0L260.4 514.6L259.6 515.5L258.9 513.4L258.1 511.0L257.4 509.0L256.6 508.4L255.9 506.2L255.1 504.5L254.4 504.0L253.6 505.1L252.9 504.2L252.1 504.8L251.4 506.2L250.6 508.6L249.9 511.9L249.1 508.7L248.4 508.2L247.6 506.5L246.9 503.2L246.1 499.9L245.4 499.0L244.6 495.0L243.9 493.4L243.1 490.6L242.4 488.2L241.6 486.6L240.9 483.7L240.1 479.5L239.4 476.1L238.6 474.2L237.9 468.3L237.1 463.8L236.4 459.5L235.6 454.5L234.9 450.3L234.1 445.2L233.4 439.2L232.6 435.1L231.9 429.2L231.1 425.2L230.4 421.1L229.6 417.5L228.9 414.0L228.1 413.2L227.4 410.6L226.6 410.8L225.9 411.1L225.1 410.3L224.4 411.4L223.6 414.7L222.9 415.6L222.1 419.8L221.4 424.1L220.6 431.0L219.9 437.7L219.1 441.5L218.4 448.8L217.6 455.5L216.9 461.9L216.1 467.7L215.4 474.7L214.6 481.5L213.9 489.4L213.1 495.2L212.4 501.4L211.6 506.5L210.9 512.1L210.1 516.9L209.4 521.5L208.6 523.8L207.9 525.9L207.1 527.4L206.4 526.3L205.6 523.8L204.9 520.7L204.1 515.0L203.4 511.6L202.6 506.8L201.9 503.4L201.1 502.0L200.4 499.7L199.6 501.2L198.9 503.1L198.1 503.5L197.4 505.7L196.6 507.3L195.9 511.1L195.1 513.3L194.4 513.1L193.6 516.0L192.9 518.8L192.1 517.0L191.4 517.2L190.6 518.4L189.9 518.8L189.1 514.8L188.4 514.5L187.6 516.1L186.9 516.4L186.1 514.5L185.4 513.1L184.6 511.5L183.9 510.0L183.1 507.8L182.4 506.2L181.6 504.7L180.9 502.3L180.1 500.4L179.4 498.1L178.6 494.9L177.9 496.0L177.1 491.1L176.4 488.3L175.6 486.1L174.9 482.9L174.1 481.3L173.4 477.8L172.6 474.9L171.9 474.7L171.1 472.7L170.4 472.8L169.6 473.0L168.9 473.0L168.1 474.6L167.4 476.0L166.6 477.2L165.9 477.3L165.1 479.2L164.4 479.0L163.6 479.9L162.9 481.2L162.1 482.3L161.4 482.6L160.6 482.6L159.9 483.2L159.1 485.6L158.4 485.1L157.6 487.5L156.9 486.4L156.1 485.9L155.4 483.0L154.6 485.2L153.9 485.9L153.1 484.2L152.4 484.0L151.6 483.2L150.9 480.9L150.1 478.9L149.4 477.1L148.6 473.9L147.9 471.8L147.1 471.8L146.4 472.8L145.6 472.1L144.9 473.1L144.1 473.2L143.4 474.6L142.6 474.5L141.9 476.2L141.1 477.0L140.4 478.4L139.6 480.3L138.9 482.7L138.1 483.7L137.4 486.3L136.6 488.9L135.9 490.6L135.1 494.4L134.4 497.8L133.6 501.3L132.9 504.7L132.1 507.8L131.4 511.1L130.6 513.1L129.9 515.3L129.1 517.7L128.4 518.1L127.6 519.2L126.9 518.6L126.1 517.2L125.4 515.1L124.6 513.8L123.9 511.3L123.1 508.9L122.4 508.4L121.6 505.4L120.9 504.7L120.1 503.4L119.4 500.9L118.6 502.6L117.9 501.5L117.1 501.5L116.4 501.4L115.6 503.0L114.9 504.7L114.1 506.6L113.4 509.4L112.6 512.5L111.9 516.6L111.1 520.4L110.4 523.4L109.6 528.0L108.9 533.5L108.1 537.5L107.4 538.4L106.6 540.2L105.9 539.1L105.1 536.6L104.4 534.8L103.6 530.3L102.9 526.2L102.1 521.2L101.4 518.2L100.6 513.0L99.9 508.2L99.1 503.1L98.4 498.8L97.6 495.4L96.9 489.4L96.1 487.4L95.4 483.8L94.6 480.9L93.9 479.3L93.1 480.8L92.4 477.6L91.6 477.1L90.9 476.3L90.1 474.8L89.4 474.7L88.6 472.8L87.9 473.3L87.1 472.1L86.4 469.4L85.6 471.2L84.9 470.2L84.1 472.0L83.4 471.4L82.6 473.6Z" fill="#f00" stroke="#f00" stroke-width="1.2" stroke-linejoin="round"/>
<g stroke="#111" fill="none" stroke-linecap="square">
<path d="M54.2 64.9V215.5M737.7 64.9V215.5" stroke-width="1.3"/>
<path d="M53.95 64.9H737.85" stroke-width="1.7"/>
<path d="M53.95 215.5H737.85" stroke-width="1.1"/>
<path d="M54.2 230.5V381.3M737.7 230.5V381.3" stroke-width="1.3"/>
<path d="M53.95 230.5H737.85" stroke-width="1.5"/>
<path d="M53.95 381.3H737.85" stroke-width="1.5"/>
<path d="M54.2 396.5V546.9M737.7 396.5V546.9" stroke-width="1.3"/>
<path d="M53.95 396.5H737.85" stroke-width="1.1"/>
<path d="M53.95 546.9H737.85" stroke-width="1.8"/>
</g>
<g stroke="#000" stroke-width="1" fill="none">
<path d="M53.9 65v-3.5M53.9 215v3.5M53.9 230v-3.5M53.9 381v3.5M53.9 396v-3.5M53.9 547v3.5"/>
<path d="M82.4 65v-7M82.4 215v7M82.4 230v-7M82.4 381v7M82.4 396v-7M82.4 547v7"/>
<path d="M110.9 65v-3.5M110.9 215v3.5M110.9 230v-3.5M110.9 381v3.5M110.9 396v-3.5M110.9 547v3.5"/>
<path d="M139.4 65v-3.5M139.4 215v3.5M139.4 230v-3.5M139.4 381v3.5M139.4 396v-3.5M139.4 547v3.5"/>
<path d="M167.9 65v-3.5M167.9 215v3.5M167.9 230v-3.5M167.9 381v3.5M167.9 396v-3.5M167.9 547v3.5"/>
<path d="M196.4 65v-7M196.4 215v7M196.4 230v-7M196.4 381v7M196.4 396v-7M196.4 547v7"/>
<path d="M224.9 65v-3.5M224.9 215v3.5M224.9 230v-3.5M224.9 381v3.5M224.9 396v-3.5M224.9 547v3.5"/>
<path d="M253.4 65v-3.5M253.4 215v3.5M253.4 230v-3.5M253.4 381v3.5M253.4 396v-3.5M253.4 547v3.5"/>
<path d="M281.9 65v-3.5M281.9 215v3.5M281.9 230v-3.5M281.9 381v3.5M281.9 396v-3.5M281.9 547v3.5"/>
<path d="M310.4 65v-7M310.4 215v7M310.4 230v-7M310.4 381v7M310.4 396v-7M310.4 547v7"/>
<path d="M338.9 65v-3.5M338.9 215v3.5M338.9 230v-3.5M338.9 381v3.5M338.9 396v-3.5M338.9 547v3.5"/>
<path d="M367.4 65v-3.5M367.4 215v3.5M367.4 230v-3.5M367.4 381v3.5M367.4 396v-3.5M367.4 547v3.5"/>
<path d="M395.9 65v-3.5M395.9 215v3.5M395.9 230v-3.5M395.9 381v3.5M395.9 396v-3.5M395.9 547v3.5"/>
<path d="M424.4 65v-7M424.4 215v7M424.4 230v-7M424.4 381v7M424.4 396v-7M424.4 547v7"/>
<path d="M452.9 65v-3.5M452.9 215v3.5M452.9 230v-3.5M452.9 381v3.5M452.9 396v-3.5M452.9 547v3.5"/>
<path d="M481.4 65v-3.5M481.4 215v3.5M481.4 230v-3.5M481.4 381v3.5M481.4 396v-3.5M481.4 547v3.5"/>
<path d="M509.9 65v-3.5M509.9 215v3.5M509.9 230v-3.5M509.9 381v3.5M509.9 396v-3.5M509.9 547v3.5"/>
<path d="M538.4 65v-7M538.4 215v7M538.4 230v-7M538.4 381v7M538.4 396v-7M538.4 547v7"/>
<path d="M566.9 65v-3.5M566.9 215v3.5M566.9 230v-3.5M566.9 381v3.5M566.9 396v-3.5M566.9 547v3.5"/>
<path d="M595.4 65v-3.5M595.4 215v3.5M595.4 230v-3.5M595.4 381v3.5M595.4 396v-3.5M595.4 547v3.5"/>
<path d="M623.9 65v-3.5M623.9 215v3.5M623.9 230v-3.5M623.9 381v3.5M623.9 396v-3.5M623.9 547v3.5"/>
<path d="M652.4 65v-7M652.4 215v7M652.4 230v-7M652.4 381v7M652.4 396v-7M652.4 547v7"/>
<path d="M680.9 65v-3.5M680.9 215v3.5M680.9 230v-3.5M680.9 381v3.5M680.9 396v-3.5M680.9 547v3.5"/>
<path d="M709.4 65v-3.5M709.4 215v3.5M709.4 230v-3.5M709.4 381v3.5M709.4 396v-3.5M709.4 547v3.5"/>
<path d="M737.9 65v-3.5M737.9 215v3.5M737.9 230v-3.5M737.9 381v3.5M737.9 396v-3.5M737.9 547v3.5"/>
<path d="M53.9 71.5h-3.1M737.9 71.5h3.1"/>
<path d="M53.9 110.5h-3.1M737.9 110.5h3.1"/>
<path d="M53.9 149.5h-3.1M737.9 149.5h3.1"/>
<path d="M53.9 188.5h-3.1M737.9 188.5h3.1"/>
<path d="M53.9 251.5h-3.1M737.9 251.5h3.1"/>
<path d="M53.9 290.5h-3.1M737.9 290.5h3.1"/>
<path d="M53.9 329.5h-3.1M737.9 329.5h3.1"/>
<path d="M53.9 368.5h-3.1M737.9 368.5h3.1"/>
<path d="M53.9 425.5h-3.1M737.9 425.5h3.1"/>
<path d="M53.9 463.5h-3.1M737.9 463.5h3.1"/>
<path d="M53.9 501.5h-3.1M737.9 501.5h3.1"/>
<path d="M53.9 539.5h-3.1M737.9 539.5h3.1"/>
</g>
<g style="will-change:transform">
<text x="303.5" y="20.7" font-size="15.2" textLength="201.8" lengthAdjust="spacing" xml:space="preserve">va.p3,vb.p3,vc.p3 2007 Mar 5</text>
<text x="61.4" y="53.6" font-size="12.2" textLength="42" lengthAdjust="spacing" xml:space="preserve">010520</text>
<text x="175.4" y="53.6" font-size="12.2" textLength="42" lengthAdjust="spacing" xml:space="preserve">010540</text>
<text x="289.4" y="53.6" font-size="12.2" textLength="42" lengthAdjust="spacing" xml:space="preserve">010600</text>
<text x="387.6" y="53.6" font-size="12.2" textLength="73.6" lengthAdjust="spacing" xml:space="preserve">010620 GMT</text>
<text x="517.4" y="53.6" font-size="12.2" textLength="42" lengthAdjust="spacing" xml:space="preserve">010640</text>
<text x="631.4" y="53.6" font-size="12.2" textLength="42" lengthAdjust="spacing" xml:space="preserve">010700</text>
<text x="62.1" y="566.7" font-size="12.2" textLength="41.2" lengthAdjust="spacing" xml:space="preserve">170520</text>
<text x="176.1" y="566.7" font-size="12.2" textLength="41.2" lengthAdjust="spacing" xml:space="preserve">170540</text>
<text x="290.1" y="566.7" font-size="12.2" textLength="41.2" lengthAdjust="spacing" xml:space="preserve">170600</text>
<text x="389.3" y="566.7" font-size="12.2" textLength="70.8" lengthAdjust="spacing" xml:space="preserve">170620 PST</text>
<text x="518.1" y="566.7" font-size="12.2" textLength="41.2" lengthAdjust="spacing" xml:space="preserve">170640</text>
<text x="632.1" y="566.7" font-size="12.2" textLength="41.2" lengthAdjust="spacing" xml:space="preserve">170700</text>
<text x="33.9" y="581.5" font-size="12.5" textLength="96.3" lengthAdjust="spacing" xml:space="preserve">2007 Mar  5 PST</text>
<text x="319.1" y="581.5" font-size="12.5" textLength="154.6" lengthAdjust="spacing" xml:space="preserve">Time(HHMMSS), tic=5SEC</text>
<text x="18.5" y="606.1" font-size="9.5" textLength="252.2" lengthAdjust="spacing" xml:space="preserve" stroke="none">CHATS: 42 weather vanes to know the way the wind blows</text>
<text x="662.3" y="606.1" font-size="9.5" textLength="110.8" lengthAdjust="spacing" xml:space="preserve" stroke="none">NCAR 18:07 Mar 06 2007</text>
<text transform="translate(31.9 165.75) rotate(-90)" font-size="12.2" textLength="51.5" lengthAdjust="spacing">va.p3 (V)</text>
<text transform="translate(31.9 331.25) rotate(-90)" font-size="12.2" textLength="51.5" lengthAdjust="spacing">vb.p3 (V)</text>
<text transform="translate(31.9 497.25) rotate(-90)" font-size="12.2" textLength="51.5" lengthAdjust="spacing">vc.p3 (V)</text>
<text transform="translate(44.5 123.9) rotate(-90)" font-size="10.3" textLength="25.4" lengthAdjust="spacing">2.030</text>
<text transform="translate(44.5 202.3) rotate(-90)" font-size="10.3" textLength="25.4" lengthAdjust="spacing">2.020</text>
<text transform="translate(44.5 303.59999999999997) rotate(-90)" font-size="10.3" textLength="25.4" lengthAdjust="spacing">2.050</text>
<text transform="translate(44.5 382.0) rotate(-90)" font-size="10.3" textLength="25.4" lengthAdjust="spacing">2.040</text>
<text transform="translate(44.5 476.59999999999997) rotate(-90)" font-size="10.3" textLength="25.4" lengthAdjust="spacing">2.040</text>
<text transform="translate(44.5 552.6) rotate(-90)" font-size="10.3" textLength="25.4" lengthAdjust="spacing">2.030</text>
</g>
</svg></body></html>
